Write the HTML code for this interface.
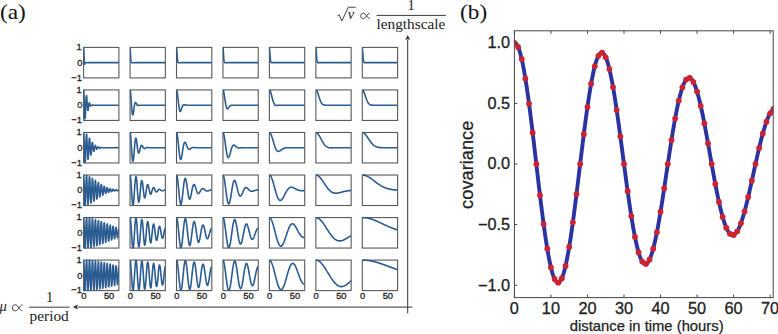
<!DOCTYPE html>
<html><head><meta charset="utf-8"><style>
html,body{margin:0;padding:0;background:#fff;}
body{width:778px;height:334px;overflow:hidden;font-family:"Liberation Sans",sans-serif;}
svg{display:block;}
</style></head><body>
<svg width="778" height="334" viewBox="0 0 778 334"><defs><clipPath id="c00"><rect x="83.60" y="46.40" width="35.30" height="32.50"/></clipPath><clipPath id="c01"><rect x="130.05" y="46.40" width="35.30" height="32.50"/></clipPath><clipPath id="c02"><rect x="176.50" y="46.40" width="35.30" height="32.50"/></clipPath><clipPath id="c03"><rect x="222.95" y="46.40" width="35.30" height="32.50"/></clipPath><clipPath id="c04"><rect x="269.40" y="46.40" width="35.30" height="32.50"/></clipPath><clipPath id="c05"><rect x="315.85" y="46.40" width="35.30" height="32.50"/></clipPath><clipPath id="c06"><rect x="362.30" y="46.40" width="35.30" height="32.50"/></clipPath><clipPath id="c10"><rect x="83.60" y="88.94" width="35.30" height="32.50"/></clipPath><clipPath id="c11"><rect x="130.05" y="88.94" width="35.30" height="32.50"/></clipPath><clipPath id="c12"><rect x="176.50" y="88.94" width="35.30" height="32.50"/></clipPath><clipPath id="c13"><rect x="222.95" y="88.94" width="35.30" height="32.50"/></clipPath><clipPath id="c14"><rect x="269.40" y="88.94" width="35.30" height="32.50"/></clipPath><clipPath id="c15"><rect x="315.85" y="88.94" width="35.30" height="32.50"/></clipPath><clipPath id="c16"><rect x="362.30" y="88.94" width="35.30" height="32.50"/></clipPath><clipPath id="c20"><rect x="83.60" y="131.48" width="35.30" height="32.50"/></clipPath><clipPath id="c21"><rect x="130.05" y="131.48" width="35.30" height="32.50"/></clipPath><clipPath id="c22"><rect x="176.50" y="131.48" width="35.30" height="32.50"/></clipPath><clipPath id="c23"><rect x="222.95" y="131.48" width="35.30" height="32.50"/></clipPath><clipPath id="c24"><rect x="269.40" y="131.48" width="35.30" height="32.50"/></clipPath><clipPath id="c25"><rect x="315.85" y="131.48" width="35.30" height="32.50"/></clipPath><clipPath id="c26"><rect x="362.30" y="131.48" width="35.30" height="32.50"/></clipPath><clipPath id="c30"><rect x="83.60" y="174.02" width="35.30" height="32.50"/></clipPath><clipPath id="c31"><rect x="130.05" y="174.02" width="35.30" height="32.50"/></clipPath><clipPath id="c32"><rect x="176.50" y="174.02" width="35.30" height="32.50"/></clipPath><clipPath id="c33"><rect x="222.95" y="174.02" width="35.30" height="32.50"/></clipPath><clipPath id="c34"><rect x="269.40" y="174.02" width="35.30" height="32.50"/></clipPath><clipPath id="c35"><rect x="315.85" y="174.02" width="35.30" height="32.50"/></clipPath><clipPath id="c36"><rect x="362.30" y="174.02" width="35.30" height="32.50"/></clipPath><clipPath id="c40"><rect x="83.60" y="216.56" width="35.30" height="32.50"/></clipPath><clipPath id="c41"><rect x="130.05" y="216.56" width="35.30" height="32.50"/></clipPath><clipPath id="c42"><rect x="176.50" y="216.56" width="35.30" height="32.50"/></clipPath><clipPath id="c43"><rect x="222.95" y="216.56" width="35.30" height="32.50"/></clipPath><clipPath id="c44"><rect x="269.40" y="216.56" width="35.30" height="32.50"/></clipPath><clipPath id="c45"><rect x="315.85" y="216.56" width="35.30" height="32.50"/></clipPath><clipPath id="c46"><rect x="362.30" y="216.56" width="35.30" height="32.50"/></clipPath><clipPath id="c50"><rect x="83.60" y="259.10" width="35.30" height="32.50"/></clipPath><clipPath id="c51"><rect x="130.05" y="259.10" width="35.30" height="32.50"/></clipPath><clipPath id="c52"><rect x="176.50" y="259.10" width="35.30" height="32.50"/></clipPath><clipPath id="c53"><rect x="222.95" y="259.10" width="35.30" height="32.50"/></clipPath><clipPath id="c54"><rect x="269.40" y="259.10" width="35.30" height="32.50"/></clipPath><clipPath id="c55"><rect x="315.85" y="259.10" width="35.30" height="32.50"/></clipPath><clipPath id="c56"><rect x="362.30" y="259.10" width="35.30" height="32.50"/></clipPath></defs><rect x="83.60" y="47.40" width="35.30" height="30.50" fill="none" stroke="#585858" stroke-width="1.1"/><rect x="130.05" y="47.40" width="35.30" height="30.50" fill="none" stroke="#585858" stroke-width="1.1"/><rect x="176.50" y="47.40" width="35.30" height="30.50" fill="none" stroke="#585858" stroke-width="1.1"/><rect x="222.95" y="47.40" width="35.30" height="30.50" fill="none" stroke="#585858" stroke-width="1.1"/><rect x="269.40" y="47.40" width="35.30" height="30.50" fill="none" stroke="#585858" stroke-width="1.1"/><rect x="315.85" y="47.40" width="35.30" height="30.50" fill="none" stroke="#585858" stroke-width="1.1"/><rect x="362.30" y="47.40" width="35.30" height="30.50" fill="none" stroke="#585858" stroke-width="1.1"/><rect x="83.60" y="89.94" width="35.30" height="30.50" fill="none" stroke="#585858" stroke-width="1.1"/><rect x="130.05" y="89.94" width="35.30" height="30.50" fill="none" stroke="#585858" stroke-width="1.1"/><rect x="176.50" y="89.94" width="35.30" height="30.50" fill="none" stroke="#585858" stroke-width="1.1"/><rect x="222.95" y="89.94" width="35.30" height="30.50" fill="none" stroke="#585858" stroke-width="1.1"/><rect x="269.40" y="89.94" width="35.30" height="30.50" fill="none" stroke="#585858" stroke-width="1.1"/><rect x="315.85" y="89.94" width="35.30" height="30.50" fill="none" stroke="#585858" stroke-width="1.1"/><rect x="362.30" y="89.94" width="35.30" height="30.50" fill="none" stroke="#585858" stroke-width="1.1"/><rect x="83.60" y="132.48" width="35.30" height="30.50" fill="none" stroke="#585858" stroke-width="1.1"/><rect x="130.05" y="132.48" width="35.30" height="30.50" fill="none" stroke="#585858" stroke-width="1.1"/><rect x="176.50" y="132.48" width="35.30" height="30.50" fill="none" stroke="#585858" stroke-width="1.1"/><rect x="222.95" y="132.48" width="35.30" height="30.50" fill="none" stroke="#585858" stroke-width="1.1"/><rect x="269.40" y="132.48" width="35.30" height="30.50" fill="none" stroke="#585858" stroke-width="1.1"/><rect x="315.85" y="132.48" width="35.30" height="30.50" fill="none" stroke="#585858" stroke-width="1.1"/><rect x="362.30" y="132.48" width="35.30" height="30.50" fill="none" stroke="#585858" stroke-width="1.1"/><rect x="83.60" y="175.02" width="35.30" height="30.50" fill="none" stroke="#585858" stroke-width="1.1"/><rect x="130.05" y="175.02" width="35.30" height="30.50" fill="none" stroke="#585858" stroke-width="1.1"/><rect x="176.50" y="175.02" width="35.30" height="30.50" fill="none" stroke="#585858" stroke-width="1.1"/><rect x="222.95" y="175.02" width="35.30" height="30.50" fill="none" stroke="#585858" stroke-width="1.1"/><rect x="269.40" y="175.02" width="35.30" height="30.50" fill="none" stroke="#585858" stroke-width="1.1"/><rect x="315.85" y="175.02" width="35.30" height="30.50" fill="none" stroke="#585858" stroke-width="1.1"/><rect x="362.30" y="175.02" width="35.30" height="30.50" fill="none" stroke="#585858" stroke-width="1.1"/><rect x="83.60" y="217.56" width="35.30" height="30.50" fill="none" stroke="#585858" stroke-width="1.1"/><rect x="130.05" y="217.56" width="35.30" height="30.50" fill="none" stroke="#585858" stroke-width="1.1"/><rect x="176.50" y="217.56" width="35.30" height="30.50" fill="none" stroke="#585858" stroke-width="1.1"/><rect x="222.95" y="217.56" width="35.30" height="30.50" fill="none" stroke="#585858" stroke-width="1.1"/><rect x="269.40" y="217.56" width="35.30" height="30.50" fill="none" stroke="#585858" stroke-width="1.1"/><rect x="315.85" y="217.56" width="35.30" height="30.50" fill="none" stroke="#585858" stroke-width="1.1"/><rect x="362.30" y="217.56" width="35.30" height="30.50" fill="none" stroke="#585858" stroke-width="1.1"/><rect x="83.60" y="260.10" width="35.30" height="30.50" fill="none" stroke="#585858" stroke-width="1.1"/><rect x="130.05" y="260.10" width="35.30" height="30.50" fill="none" stroke="#585858" stroke-width="1.1"/><rect x="176.50" y="260.10" width="35.30" height="30.50" fill="none" stroke="#585858" stroke-width="1.1"/><rect x="222.95" y="260.10" width="35.30" height="30.50" fill="none" stroke="#585858" stroke-width="1.1"/><rect x="269.40" y="260.10" width="35.30" height="30.50" fill="none" stroke="#585858" stroke-width="1.1"/><rect x="315.85" y="260.10" width="35.30" height="30.50" fill="none" stroke="#585858" stroke-width="1.1"/><rect x="362.30" y="260.10" width="35.30" height="30.50" fill="none" stroke="#585858" stroke-width="1.1"/><polyline clip-path="url(#c00)" fill="none" stroke="#2a5c92" stroke-width="1.6" stroke-linejoin="round" points="83.6,47.4 83.7,48.1 83.8,50.1 83.9,52.9 84.0,56.1 84.2,59.1 84.3,61.4 84.4,63.1 84.5,63.9 84.6,64.2 84.7,64.1 84.8,63.8 84.9,63.5 85.0,63.2 85.1,63.0 85.3,62.8 85.4,62.7 85.5,62.7 85.6,62.7 85.7,62.7 85.8,62.7 85.9,62.6 86.0,62.6 86.1,62.6 86.2,62.6 86.4,62.6 86.5,62.6 86.6,62.6 86.7,62.6 86.8,62.6 86.9,62.6 87.0,62.6 87.1,62.6 87.2,62.6 87.4,62.7 87.5,62.7 87.6,62.7 87.7,62.7 87.8,62.7 87.9,62.7 88.0,62.7 88.1,62.7 88.2,62.7 88.3,62.6 88.5,62.6 88.6,62.6 88.7,62.6 88.8,62.6 88.9,62.6 89.0,62.6 89.1,62.6 89.2,62.6 89.3,62.6 89.4,62.6 89.6,62.6 89.7,62.6 89.8,62.6 89.9,62.6 90.0,62.6 90.1,62.6 90.2,62.6 90.3,62.6 90.4,62.6 90.5,62.6 90.7,62.6 90.8,62.6 90.9,62.6 91.0,62.6 91.1,62.6 91.2,62.6 91.3,62.6 91.4,62.6 91.5,62.6 91.7,62.6 91.8,62.6 91.9,62.6 92.0,62.6 92.1,62.6 92.2,62.6 92.3,62.6 92.4,62.6 92.5,62.6 92.6,62.6 92.8,62.6 92.9,62.6 93.0,62.6 93.1,62.6 93.2,62.6 93.3,62.6 93.4,62.6 93.5,62.6 93.6,62.6 93.7,62.6 93.9,62.6 94.0,62.6 94.1,62.6 94.2,62.6 94.3,62.6 94.4,62.6 94.5,62.6 94.6,62.6 94.7,62.6 94.9,62.6 95.0,62.6 95.1,62.6 95.2,62.6 95.3,62.6 95.4,62.6 95.5,62.6 95.6,62.6 95.7,62.6 95.8,62.6 96.0,62.6 96.1,62.6 96.2,62.6 96.3,62.6 96.4,62.6 96.5,62.6 96.6,62.6 96.7,62.6 96.8,62.6 96.9,62.6 97.1,62.6 97.2,62.6 97.3,62.6 97.4,62.6 97.5,62.6 97.6,62.6 97.7,62.6 97.8,62.6 97.9,62.6 98.1,62.6 98.2,62.6 98.3,62.6 98.4,62.6 98.5,62.6 98.6,62.6 98.7,62.6 98.8,62.6 98.9,62.6 99.0,62.6 99.2,62.6 99.3,62.6 99.4,62.6 99.5,62.6 99.6,62.6 99.7,62.6 99.8,62.6 99.9,62.6 100.0,62.6 100.1,62.6 100.3,62.6 100.4,62.6 100.5,62.6 100.6,62.6 100.7,62.6 100.8,62.6 100.9,62.6 101.0,62.6 101.1,62.6 101.2,62.6 101.4,62.6 101.5,62.6 101.6,62.6 101.7,62.6 101.8,62.6 101.9,62.6 102.0,62.6 102.1,62.6 102.2,62.6 102.4,62.6 102.5,62.6 102.6,62.6 102.7,62.6 102.8,62.6 102.9,62.6 103.0,62.6 103.1,62.6 103.2,62.6 103.3,62.6 103.5,62.6 103.6,62.6 103.7,62.6 103.8,62.6 103.9,62.6 104.0,62.6 104.1,62.6 104.2,62.6 104.3,62.6 104.4,62.6 104.6,62.6 104.7,62.6 104.8,62.6 104.9,62.6 105.0,62.6 105.1,62.6 105.2,62.6 105.3,62.6 105.4,62.6 105.6,62.6 105.7,62.6 105.8,62.6 105.9,62.6 106.0,62.6 106.1,62.6 106.2,62.6 106.3,62.6 106.4,62.6 106.5,62.6 106.7,62.6 106.8,62.6 106.9,62.6 107.0,62.6 107.1,62.6 107.2,62.6 107.3,62.6 107.4,62.6 107.5,62.6 107.6,62.6 107.8,62.6 107.9,62.6 108.0,62.6 108.1,62.6 108.2,62.6 108.3,62.6 108.4,62.6 108.5,62.6 108.6,62.6 108.8,62.6 108.9,62.6 109.0,62.6 109.1,62.6 109.2,62.6 109.3,62.6 109.4,62.6 109.5,62.6 109.6,62.6 109.7,62.6 109.9,62.6 110.0,62.6 110.1,62.6 110.2,62.6 110.3,62.6 110.4,62.6 110.5,62.6 110.6,62.6 110.7,62.6 110.8,62.6 111.0,62.6 111.1,62.6 111.2,62.6 111.3,62.6 111.4,62.6 111.5,62.6 111.6,62.6 111.7,62.6 111.8,62.6 112.0,62.6 112.1,62.6 112.2,62.6 112.3,62.6 112.4,62.6 112.5,62.6 112.6,62.6 112.7,62.6 112.8,62.6 112.9,62.6 113.1,62.6 113.2,62.6 113.3,62.6 113.4,62.6 113.5,62.6 113.6,62.6 113.7,62.6 113.8,62.6 113.9,62.6 114.0,62.6 114.2,62.6 114.3,62.6 114.4,62.6 114.5,62.6 114.6,62.6 114.7,62.6 114.8,62.6 114.9,62.6 115.0,62.6 115.1,62.6 115.3,62.6 115.4,62.6 115.5,62.6 115.6,62.6 115.7,62.6 115.8,62.6 115.9,62.6 116.0,62.6 116.1,62.6 116.3,62.6 116.4,62.6 116.5,62.6 116.6,62.6 116.7,62.6 116.8,62.6 116.9,62.6 117.0,62.6 117.1,62.6 117.2,62.6 117.4,62.6 117.5,62.6 117.6,62.6 117.7,62.6 117.8,62.6 117.9,62.6 118.0,62.6 118.1,62.6 118.2,62.6 118.3,62.6 118.5,62.6 118.6,62.6 118.7,62.6 118.8,62.6 118.9,62.6"/><polyline clip-path="url(#c01)" fill="none" stroke="#2a5c92" stroke-width="1.6" stroke-linejoin="round" points="130.1,47.4 130.2,48.6 130.4,51.8 130.6,55.7 130.8,58.9 131.0,61.1 131.2,62.2 131.4,62.6 131.6,62.7 131.8,62.7 132.0,62.7 132.2,62.7 132.4,62.7 132.6,62.7 132.8,62.7 133.0,62.7 133.2,62.7 133.4,62.7 133.6,62.7 133.8,62.7 134.0,62.7 134.2,62.7 134.4,62.7 134.6,62.6 134.8,62.6 135.0,62.6 135.2,62.6 135.4,62.6 135.6,62.6 135.8,62.6 136.0,62.6 136.2,62.6 136.4,62.6 136.6,62.6 136.8,62.6 137.0,62.6 137.1,62.6 137.3,62.6 137.5,62.6 137.7,62.6 137.9,62.6 138.1,62.6 138.3,62.6 138.5,62.6 138.7,62.6 138.9,62.6 139.1,62.6 139.3,62.6 139.5,62.6 139.7,62.6 139.9,62.6 140.1,62.6 140.3,62.6 140.5,62.6 140.7,62.6 140.9,62.6 141.1,62.6 141.3,62.6 141.5,62.6 141.7,62.6 141.9,62.6 142.1,62.6 142.3,62.6 142.5,62.6 142.7,62.6 142.9,62.6 143.1,62.6 143.3,62.6 143.5,62.6 143.7,62.6 143.9,62.6 144.1,62.6 144.2,62.6 144.4,62.6 144.6,62.6 144.8,62.6 145.0,62.6 145.2,62.6 145.4,62.6 145.6,62.6 145.8,62.6 146.0,62.6 146.2,62.6 146.4,62.6 146.6,62.6 146.8,62.6 147.0,62.6 147.2,62.6 147.4,62.6 147.6,62.6 147.8,62.6 148.0,62.6 148.2,62.6 148.4,62.6 148.6,62.6 148.8,62.6 149.0,62.6 149.2,62.6 149.4,62.6 149.6,62.6 149.8,62.6 150.0,62.6 150.2,62.6 150.4,62.6 150.6,62.6 150.8,62.6 151.0,62.6 151.2,62.6 151.3,62.6 151.5,62.6 151.7,62.6 151.9,62.6 152.1,62.6 152.3,62.6 152.5,62.6 152.7,62.6 152.9,62.6 153.1,62.6 153.3,62.6 153.5,62.6 153.7,62.6 153.9,62.6 154.1,62.6 154.3,62.6 154.5,62.6 154.7,62.6 154.9,62.6 155.1,62.6 155.3,62.6 155.5,62.6 155.7,62.6 155.9,62.6 156.1,62.6 156.3,62.6 156.5,62.6 156.7,62.6 156.9,62.6 157.1,62.6 157.3,62.6 157.5,62.6 157.7,62.6 157.9,62.6 158.1,62.6 158.3,62.6 158.4,62.6 158.6,62.6 158.8,62.6 159.0,62.6 159.2,62.6 159.4,62.6 159.6,62.6 159.8,62.6 160.0,62.6 160.2,62.6 160.4,62.6 160.6,62.6 160.8,62.6 161.0,62.6 161.2,62.6 161.4,62.6 161.6,62.6 161.8,62.6 162.0,62.6 162.2,62.6 162.4,62.6 162.6,62.6 162.8,62.6 163.0,62.6 163.2,62.6 163.4,62.6 163.6,62.6 163.8,62.6 164.0,62.6 164.2,62.6 164.4,62.6 164.6,62.6 164.8,62.6 165.0,62.6 165.2,62.6 165.4,62.6"/><polyline clip-path="url(#c02)" fill="none" stroke="#2a5c92" stroke-width="1.6" stroke-linejoin="round" points="176.5,47.4 176.8,49.7 177.1,54.8 177.4,59.3 177.7,61.6 178.0,62.4 178.3,62.6 178.6,62.6 178.9,62.7 179.2,62.7 179.5,62.7 179.8,62.7 180.1,62.7 180.4,62.7 180.7,62.7 180.9,62.7 181.2,62.7 181.5,62.6 181.8,62.6 182.1,62.6 182.4,62.6 182.7,62.6 183.0,62.6 183.3,62.6 183.6,62.6 183.9,62.6 184.2,62.6 184.5,62.6 184.8,62.6 185.1,62.6 185.4,62.6 185.7,62.6 186.0,62.6 186.3,62.6 186.6,62.6 186.9,62.6 187.2,62.6 187.5,62.6 187.8,62.6 188.1,62.6 188.4,62.6 188.7,62.6 189.0,62.6 189.3,62.6 189.6,62.6 189.8,62.6 190.1,62.6 190.4,62.6 190.7,62.6 191.0,62.6 191.3,62.6 191.6,62.6 191.9,62.6 192.2,62.6 192.5,62.6 192.8,62.6 193.1,62.6 193.4,62.6 193.7,62.6 194.0,62.6 194.3,62.6 194.6,62.6 194.9,62.6 195.2,62.6 195.5,62.6 195.8,62.6 196.1,62.6 196.4,62.6 196.7,62.6 197.0,62.6 197.3,62.6 197.6,62.6 197.9,62.6 198.2,62.6 198.5,62.6 198.7,62.6 199.0,62.6 199.3,62.6 199.6,62.6 199.9,62.6 200.2,62.6 200.5,62.6 200.8,62.6 201.1,62.6 201.4,62.6 201.7,62.6 202.0,62.6 202.3,62.6 202.6,62.6 202.9,62.6 203.2,62.6 203.5,62.6 203.8,62.6 204.1,62.6 204.4,62.6 204.7,62.6 205.0,62.6 205.3,62.6 205.6,62.6 205.9,62.6 206.2,62.6 206.5,62.6 206.8,62.6 207.1,62.6 207.4,62.6 207.6,62.6 207.9,62.6 208.2,62.6 208.5,62.6 208.8,62.6 209.1,62.6 209.4,62.6 209.7,62.6 210.0,62.6 210.3,62.6 210.6,62.6 210.9,62.6 211.2,62.6 211.5,62.6 211.8,62.6"/><polyline clip-path="url(#c03)" fill="none" stroke="#2a5c92" stroke-width="1.6" stroke-linejoin="round" points="223.0,47.4 223.3,51.1 223.7,57.6 224.1,61.4 224.5,62.5 224.9,62.6 225.3,62.6 225.7,62.6 226.1,62.7 226.5,62.7 226.9,62.7 227.3,62.7 227.7,62.6 228.1,62.6 228.5,62.6 228.9,62.6 229.3,62.6 229.7,62.6 230.1,62.6 230.5,62.6 230.9,62.6 231.3,62.6 231.7,62.6 232.1,62.6 232.5,62.6 232.9,62.6 233.3,62.6 233.7,62.6 234.1,62.6 234.5,62.6 234.8,62.6 235.2,62.6 235.6,62.6 236.0,62.6 236.4,62.6 236.8,62.6 237.2,62.6 237.6,62.6 238.0,62.6 238.4,62.6 238.8,62.6 239.2,62.6 239.6,62.6 240.0,62.6 240.4,62.6 240.8,62.6 241.2,62.6 241.6,62.6 242.0,62.6 242.4,62.6 242.8,62.6 243.2,62.6 243.6,62.6 244.0,62.6 244.4,62.6 244.8,62.6 245.2,62.6 245.6,62.6 246.0,62.6 246.4,62.6 246.7,62.6 247.1,62.6 247.5,62.6 247.9,62.6 248.3,62.6 248.7,62.6 249.1,62.6 249.5,62.6 249.9,62.6 250.3,62.6 250.7,62.6 251.1,62.6 251.5,62.6 251.9,62.6 252.3,62.6 252.7,62.6 253.1,62.6 253.5,62.6 253.9,62.6 254.3,62.6 254.7,62.6 255.1,62.6 255.5,62.6 255.9,62.6 256.3,62.6 256.7,62.6 257.1,62.6 257.5,62.6 257.9,62.6 258.2,62.6"/><polyline clip-path="url(#c04)" fill="none" stroke="#2a5c92" stroke-width="1.6" stroke-linejoin="round" points="269.4,47.4 269.8,51.6 270.3,58.5 270.7,61.8 271.2,62.6 271.6,62.6 272.0,62.6 272.5,62.6 272.9,62.6 273.4,62.6 273.8,62.6 274.3,62.6 274.7,62.6 275.1,62.6 275.6,62.6 276.0,62.6 276.5,62.6 276.9,62.6 277.3,62.6 277.8,62.6 278.2,62.6 278.7,62.6 279.1,62.6 279.5,62.6 280.0,62.6 280.4,62.6 280.9,62.6 281.3,62.6 281.8,62.6 282.2,62.6 282.6,62.6 283.1,62.6 283.5,62.6 284.0,62.6 284.4,62.6 284.8,62.6 285.3,62.6 285.7,62.6 286.2,62.6 286.6,62.6 287.0,62.6 287.5,62.6 287.9,62.6 288.4,62.6 288.8,62.6 289.3,62.6 289.7,62.6 290.1,62.6 290.6,62.6 291.0,62.6 291.5,62.6 291.9,62.6 292.3,62.6 292.8,62.6 293.2,62.6 293.7,62.6 294.1,62.6 294.6,62.6 295.0,62.6 295.4,62.6 295.9,62.6 296.3,62.6 296.8,62.6 297.2,62.6 297.6,62.6 298.1,62.6 298.5,62.6 299.0,62.6 299.4,62.6 299.8,62.6 300.3,62.6 300.7,62.6 301.2,62.6 301.6,62.6 302.1,62.6 302.5,62.6 302.9,62.6 303.4,62.6 303.8,62.6 304.3,62.6 304.7,62.6"/><polyline clip-path="url(#c05)" fill="none" stroke="#2a5c92" stroke-width="1.6" stroke-linejoin="round" points="315.9,47.4 316.3,51.6 316.7,58.4 317.2,61.8 317.6,62.6 318.1,62.6 318.5,62.6 318.9,62.6 319.4,62.6 319.8,62.6 320.3,62.6 320.7,62.6 321.1,62.6 321.6,62.6 322.0,62.6 322.5,62.6 322.9,62.6 323.4,62.6 323.8,62.6 324.2,62.6 324.7,62.6 325.1,62.6 325.6,62.6 326.0,62.6 326.4,62.6 326.9,62.6 327.3,62.6 327.8,62.6 328.2,62.6 328.6,62.6 329.1,62.6 329.5,62.6 330.0,62.6 330.4,62.6 330.9,62.6 331.3,62.6 331.7,62.6 332.2,62.6 332.6,62.6 333.1,62.6 333.5,62.6 333.9,62.6 334.4,62.6 334.8,62.6 335.3,62.6 335.7,62.6 336.1,62.6 336.6,62.6 337.0,62.6 337.5,62.6 337.9,62.6 338.4,62.6 338.8,62.6 339.2,62.6 339.7,62.6 340.1,62.6 340.6,62.6 341.0,62.6 341.4,62.6 341.9,62.6 342.3,62.6 342.8,62.6 343.2,62.6 343.6,62.6 344.1,62.6 344.5,62.6 345.0,62.6 345.4,62.6 345.9,62.6 346.3,62.6 346.7,62.6 347.2,62.6 347.6,62.6 348.1,62.6 348.5,62.6 348.9,62.6 349.4,62.6 349.8,62.6 350.3,62.6 350.7,62.6 351.2,62.6"/><polyline clip-path="url(#c06)" fill="none" stroke="#2a5c92" stroke-width="1.6" stroke-linejoin="round" points="362.3,47.4 362.7,51.5 363.2,58.3 363.6,61.8 364.1,62.6 364.5,62.6 364.9,62.6 365.4,62.6 365.8,62.6 366.3,62.6 366.7,62.6 367.2,62.6 367.6,62.6 368.0,62.6 368.5,62.6 368.9,62.6 369.4,62.6 369.8,62.6 370.2,62.6 370.7,62.6 371.1,62.6 371.6,62.6 372.0,62.6 372.4,62.6 372.9,62.6 373.3,62.6 373.8,62.6 374.2,62.6 374.7,62.6 375.1,62.6 375.5,62.6 376.0,62.6 376.4,62.6 376.9,62.6 377.3,62.6 377.7,62.6 378.2,62.6 378.6,62.6 379.1,62.6 379.5,62.6 380.0,62.6 380.4,62.6 380.8,62.6 381.3,62.6 381.7,62.6 382.2,62.6 382.6,62.6 383.0,62.6 383.5,62.6 383.9,62.6 384.4,62.6 384.8,62.6 385.2,62.6 385.7,62.6 386.1,62.6 386.6,62.6 387.0,62.6 387.5,62.6 387.9,62.6 388.3,62.6 388.8,62.6 389.2,62.6 389.7,62.6 390.1,62.6 390.5,62.6 391.0,62.6 391.4,62.6 391.9,62.6 392.3,62.6 392.7,62.6 393.2,62.6 393.6,62.6 394.1,62.6 394.5,62.6 395.0,62.6 395.4,62.6 395.8,62.6 396.3,62.6 396.7,62.6 397.2,62.6 397.6,62.6"/><polyline clip-path="url(#c10)" fill="none" stroke="#2a5c92" stroke-width="1.6" stroke-linejoin="round" points="83.6,89.9 83.7,90.4 83.8,91.6 83.9,93.6 84.0,96.3 84.2,99.4 84.3,102.8 84.4,106.3 84.5,109.6 84.6,112.6 84.7,115.2 84.8,117.1 84.9,118.3 85.0,118.8 85.1,118.4 85.3,117.4 85.4,115.7 85.5,113.5 85.6,111.0 85.7,108.2 85.8,105.4 85.9,102.7 86.0,100.4 86.1,98.4 86.2,96.9 86.4,96.0 86.5,95.6 86.6,95.8 86.7,96.5 86.8,97.6 86.9,99.1 87.0,100.8 87.1,102.6 87.2,104.4 87.4,106.1 87.5,107.6 87.6,108.8 87.7,109.7 87.8,110.3 87.9,110.5 88.0,110.5 88.1,110.1 88.2,109.5 88.3,108.7 88.5,107.8 88.6,106.9 88.7,105.9 88.8,105.1 88.9,104.3 89.0,103.7 89.1,103.2 89.2,102.9 89.3,102.8 89.4,102.9 89.6,103.0 89.7,103.3 89.8,103.6 89.9,104.0 90.0,104.4 90.1,104.8 90.2,105.1 90.3,105.4 90.4,105.7 90.5,105.8 90.7,106.0 90.8,106.0 90.9,106.0 91.0,106.0 91.1,105.9 91.2,105.8 91.3,105.6 91.4,105.5 91.5,105.4 91.7,105.3 91.8,105.2 91.9,105.1 92.0,105.0 92.1,105.0 92.2,105.0 92.3,105.0 92.4,105.0 92.5,105.0 92.6,105.0 92.8,105.1 92.9,105.1 93.0,105.1 93.1,105.2 93.2,105.2 93.3,105.2 93.4,105.2 93.5,105.2 93.6,105.2 93.7,105.2 93.9,105.2 94.0,105.2 94.1,105.2 94.2,105.2 94.3,105.2 94.4,105.2 94.5,105.2 94.6,105.2 94.7,105.2 94.9,105.2 95.0,105.2 95.1,105.2 95.2,105.2 95.3,105.2 95.4,105.2 95.5,105.2 95.6,105.2 95.7,105.2 95.8,105.2 96.0,105.2 96.1,105.2 96.2,105.2 96.3,105.2 96.4,105.2 96.5,105.2 96.6,105.2 96.7,105.2 96.8,105.2 96.9,105.2 97.1,105.2 97.2,105.2 97.3,105.2 97.4,105.2 97.5,105.2 97.6,105.2 97.7,105.2 97.8,105.2 97.9,105.2 98.1,105.2 98.2,105.2 98.3,105.2 98.4,105.2 98.5,105.2 98.6,105.2 98.7,105.2 98.8,105.2 98.9,105.2 99.0,105.2 99.2,105.2 99.3,105.2 99.4,105.2 99.5,105.2 99.6,105.2 99.7,105.2 99.8,105.2 99.9,105.2 100.0,105.2 100.1,105.2 100.3,105.2 100.4,105.2 100.5,105.2 100.6,105.2 100.7,105.2 100.8,105.2 100.9,105.2 101.0,105.2 101.1,105.2 101.2,105.2 101.4,105.2 101.5,105.2 101.6,105.2 101.7,105.2 101.8,105.2 101.9,105.2 102.0,105.2 102.1,105.2 102.2,105.2 102.4,105.2 102.5,105.2 102.6,105.2 102.7,105.2 102.8,105.2 102.9,105.2 103.0,105.2 103.1,105.2 103.2,105.2 103.3,105.2 103.5,105.2 103.6,105.2 103.7,105.2 103.8,105.2 103.9,105.2 104.0,105.2 104.1,105.2 104.2,105.2 104.3,105.2 104.4,105.2 104.6,105.2 104.7,105.2 104.8,105.2 104.9,105.2 105.0,105.2 105.1,105.2 105.2,105.2 105.3,105.2 105.4,105.2 105.6,105.2 105.7,105.2 105.8,105.2 105.9,105.2 106.0,105.2 106.1,105.2 106.2,105.2 106.3,105.2 106.4,105.2 106.5,105.2 106.7,105.2 106.8,105.2 106.9,105.2 107.0,105.2 107.1,105.2 107.2,105.2 107.3,105.2 107.4,105.2 107.5,105.2 107.6,105.2 107.8,105.2 107.9,105.2 108.0,105.2 108.1,105.2 108.2,105.2 108.3,105.2 108.4,105.2 108.5,105.2 108.6,105.2 108.8,105.2 108.9,105.2 109.0,105.2 109.1,105.2 109.2,105.2 109.3,105.2 109.4,105.2 109.5,105.2 109.6,105.2 109.7,105.2 109.9,105.2 110.0,105.2 110.1,105.2 110.2,105.2 110.3,105.2 110.4,105.2 110.5,105.2 110.6,105.2 110.7,105.2 110.8,105.2 111.0,105.2 111.1,105.2 111.2,105.2 111.3,105.2 111.4,105.2 111.5,105.2 111.6,105.2 111.7,105.2 111.8,105.2 112.0,105.2 112.1,105.2 112.2,105.2 112.3,105.2 112.4,105.2 112.5,105.2 112.6,105.2 112.7,105.2 112.8,105.2 112.9,105.2 113.1,105.2 113.2,105.2 113.3,105.2 113.4,105.2 113.5,105.2 113.6,105.2 113.7,105.2 113.8,105.2 113.9,105.2 114.0,105.2 114.2,105.2 114.3,105.2 114.4,105.2 114.5,105.2 114.6,105.2 114.7,105.2 114.8,105.2 114.9,105.2 115.0,105.2 115.1,105.2 115.3,105.2 115.4,105.2 115.5,105.2 115.6,105.2 115.7,105.2 115.8,105.2 115.9,105.2 116.0,105.2 116.1,105.2 116.3,105.2 116.4,105.2 116.5,105.2 116.6,105.2 116.7,105.2 116.8,105.2 116.9,105.2 117.0,105.2 117.1,105.2 117.2,105.2 117.4,105.2 117.5,105.2 117.6,105.2 117.7,105.2 117.8,105.2 117.9,105.2 118.0,105.2 118.1,105.2 118.2,105.2 118.3,105.2 118.5,105.2 118.6,105.2 118.7,105.2 118.8,105.2 118.9,105.2"/><polyline clip-path="url(#c11)" fill="none" stroke="#2a5c92" stroke-width="1.6" stroke-linejoin="round" points="130.1,89.9 130.2,90.3 130.4,91.4 130.6,93.1 130.8,95.3 131.0,98.0 131.2,100.9 131.4,103.8 131.6,106.6 131.8,109.2 132.0,111.4 132.2,113.1 132.4,114.3 132.6,114.9 132.8,115.0 133.0,114.6 133.2,113.8 133.4,112.7 133.6,111.4 133.8,109.9 134.0,108.4 134.2,107.0 134.4,105.7 134.6,104.6 134.8,103.8 135.0,103.1 135.2,102.7 135.4,102.5 135.6,102.5 135.8,102.7 136.0,102.9 136.2,103.3 136.4,103.6 136.6,104.0 136.8,104.3 137.0,104.6 137.1,104.9 137.3,105.1 137.5,105.3 137.7,105.4 137.9,105.5 138.1,105.5 138.3,105.5 138.5,105.5 138.7,105.4 138.9,105.4 139.1,105.4 139.3,105.3 139.5,105.3 139.7,105.3 139.9,105.2 140.1,105.2 140.3,105.2 140.5,105.2 140.7,105.2 140.9,105.2 141.1,105.2 141.3,105.2 141.5,105.2 141.7,105.2 141.9,105.2 142.1,105.2 142.3,105.2 142.5,105.2 142.7,105.2 142.9,105.2 143.1,105.2 143.3,105.2 143.5,105.2 143.7,105.2 143.9,105.2 144.1,105.2 144.2,105.2 144.4,105.2 144.6,105.2 144.8,105.2 145.0,105.2 145.2,105.2 145.4,105.2 145.6,105.2 145.8,105.2 146.0,105.2 146.2,105.2 146.4,105.2 146.6,105.2 146.8,105.2 147.0,105.2 147.2,105.2 147.4,105.2 147.6,105.2 147.8,105.2 148.0,105.2 148.2,105.2 148.4,105.2 148.6,105.2 148.8,105.2 149.0,105.2 149.2,105.2 149.4,105.2 149.6,105.2 149.8,105.2 150.0,105.2 150.2,105.2 150.4,105.2 150.6,105.2 150.8,105.2 151.0,105.2 151.2,105.2 151.3,105.2 151.5,105.2 151.7,105.2 151.9,105.2 152.1,105.2 152.3,105.2 152.5,105.2 152.7,105.2 152.9,105.2 153.1,105.2 153.3,105.2 153.5,105.2 153.7,105.2 153.9,105.2 154.1,105.2 154.3,105.2 154.5,105.2 154.7,105.2 154.9,105.2 155.1,105.2 155.3,105.2 155.5,105.2 155.7,105.2 155.9,105.2 156.1,105.2 156.3,105.2 156.5,105.2 156.7,105.2 156.9,105.2 157.1,105.2 157.3,105.2 157.5,105.2 157.7,105.2 157.9,105.2 158.1,105.2 158.3,105.2 158.4,105.2 158.6,105.2 158.8,105.2 159.0,105.2 159.2,105.2 159.4,105.2 159.6,105.2 159.8,105.2 160.0,105.2 160.2,105.2 160.4,105.2 160.6,105.2 160.8,105.2 161.0,105.2 161.2,105.2 161.4,105.2 161.6,105.2 161.8,105.2 162.0,105.2 162.2,105.2 162.4,105.2 162.6,105.2 162.8,105.2 163.0,105.2 163.2,105.2 163.4,105.2 163.6,105.2 163.8,105.2 164.0,105.2 164.2,105.2 164.4,105.2 164.6,105.2 164.8,105.2 165.0,105.2 165.2,105.2 165.4,105.2"/><polyline clip-path="url(#c12)" fill="none" stroke="#2a5c92" stroke-width="1.6" stroke-linejoin="round" points="176.5,89.9 176.8,90.3 177.1,91.5 177.4,93.4 177.7,95.8 178.0,98.5 178.3,101.3 178.6,104.0 178.9,106.4 179.2,108.5 179.5,110.0 179.8,111.0 180.1,111.4 180.4,111.4 180.7,111.0 180.9,110.4 181.2,109.5 181.5,108.6 181.8,107.8 182.1,107.0 182.4,106.3 182.7,105.7 183.0,105.3 183.3,105.0 183.6,104.9 183.9,104.8 184.2,104.8 184.5,104.8 184.8,104.9 185.1,104.9 185.4,105.0 185.7,105.0 186.0,105.1 186.3,105.1 186.6,105.2 186.9,105.2 187.2,105.2 187.5,105.2 187.8,105.2 188.1,105.2 188.4,105.2 188.7,105.2 189.0,105.2 189.3,105.2 189.6,105.2 189.8,105.2 190.1,105.2 190.4,105.2 190.7,105.2 191.0,105.2 191.3,105.2 191.6,105.2 191.9,105.2 192.2,105.2 192.5,105.2 192.8,105.2 193.1,105.2 193.4,105.2 193.7,105.2 194.0,105.2 194.3,105.2 194.6,105.2 194.9,105.2 195.2,105.2 195.5,105.2 195.8,105.2 196.1,105.2 196.4,105.2 196.7,105.2 197.0,105.2 197.3,105.2 197.6,105.2 197.9,105.2 198.2,105.2 198.5,105.2 198.7,105.2 199.0,105.2 199.3,105.2 199.6,105.2 199.9,105.2 200.2,105.2 200.5,105.2 200.8,105.2 201.1,105.2 201.4,105.2 201.7,105.2 202.0,105.2 202.3,105.2 202.6,105.2 202.9,105.2 203.2,105.2 203.5,105.2 203.8,105.2 204.1,105.2 204.4,105.2 204.7,105.2 205.0,105.2 205.3,105.2 205.6,105.2 205.9,105.2 206.2,105.2 206.5,105.2 206.8,105.2 207.1,105.2 207.4,105.2 207.6,105.2 207.9,105.2 208.2,105.2 208.5,105.2 208.8,105.2 209.1,105.2 209.4,105.2 209.7,105.2 210.0,105.2 210.3,105.2 210.6,105.2 210.9,105.2 211.2,105.2 211.5,105.2 211.8,105.2"/><polyline clip-path="url(#c13)" fill="none" stroke="#2a5c92" stroke-width="1.6" stroke-linejoin="round" points="223.0,89.9 223.3,90.4 223.7,91.7 224.1,93.8 224.5,96.4 224.9,99.1 225.3,101.8 225.7,104.3 226.1,106.2 226.5,107.6 226.9,108.5 227.3,108.9 227.7,108.8 228.1,108.5 228.5,108.0 228.9,107.4 229.3,106.8 229.7,106.3 230.1,105.9 230.5,105.6 230.9,105.4 231.3,105.3 231.7,105.2 232.1,105.2 232.5,105.2 232.9,105.2 233.3,105.2 233.7,105.2 234.1,105.2 234.5,105.2 234.8,105.2 235.2,105.2 235.6,105.2 236.0,105.2 236.4,105.2 236.8,105.2 237.2,105.2 237.6,105.2 238.0,105.2 238.4,105.2 238.8,105.2 239.2,105.2 239.6,105.2 240.0,105.2 240.4,105.2 240.8,105.2 241.2,105.2 241.6,105.2 242.0,105.2 242.4,105.2 242.8,105.2 243.2,105.2 243.6,105.2 244.0,105.2 244.4,105.2 244.8,105.2 245.2,105.2 245.6,105.2 246.0,105.2 246.4,105.2 246.7,105.2 247.1,105.2 247.5,105.2 247.9,105.2 248.3,105.2 248.7,105.2 249.1,105.2 249.5,105.2 249.9,105.2 250.3,105.2 250.7,105.2 251.1,105.2 251.5,105.2 251.9,105.2 252.3,105.2 252.7,105.2 253.1,105.2 253.5,105.2 253.9,105.2 254.3,105.2 254.7,105.2 255.1,105.2 255.5,105.2 255.9,105.2 256.3,105.2 256.7,105.2 257.1,105.2 257.5,105.2 257.9,105.2 258.2,105.2"/><polyline clip-path="url(#c14)" fill="none" stroke="#2a5c92" stroke-width="1.6" stroke-linejoin="round" points="269.4,89.9 269.8,90.2 270.3,91.0 270.7,92.2 271.2,93.7 271.6,95.5 272.0,97.3 272.5,99.0 272.9,100.6 273.4,102.0 273.8,103.2 274.3,104.0 274.7,104.7 275.1,105.1 275.6,105.3 276.0,105.5 276.5,105.5 276.9,105.5 277.3,105.4 277.8,105.4 278.2,105.3 278.7,105.3 279.1,105.3 279.5,105.2 280.0,105.2 280.4,105.2 280.9,105.2 281.3,105.2 281.8,105.2 282.2,105.2 282.6,105.2 283.1,105.2 283.5,105.2 284.0,105.2 284.4,105.2 284.8,105.2 285.3,105.2 285.7,105.2 286.2,105.2 286.6,105.2 287.0,105.2 287.5,105.2 287.9,105.2 288.4,105.2 288.8,105.2 289.3,105.2 289.7,105.2 290.1,105.2 290.6,105.2 291.0,105.2 291.5,105.2 291.9,105.2 292.3,105.2 292.8,105.2 293.2,105.2 293.7,105.2 294.1,105.2 294.6,105.2 295.0,105.2 295.4,105.2 295.9,105.2 296.3,105.2 296.8,105.2 297.2,105.2 297.6,105.2 298.1,105.2 298.5,105.2 299.0,105.2 299.4,105.2 299.8,105.2 300.3,105.2 300.7,105.2 301.2,105.2 301.6,105.2 302.1,105.2 302.5,105.2 302.9,105.2 303.4,105.2 303.8,105.2 304.3,105.2 304.7,105.2"/><polyline clip-path="url(#c15)" fill="none" stroke="#2a5c92" stroke-width="1.6" stroke-linejoin="round" points="315.9,89.9 316.3,90.1 316.7,90.7 317.2,91.5 317.6,92.6 318.1,93.9 318.5,95.3 318.9,96.7 319.4,98.1 319.8,99.4 320.3,100.6 320.7,101.6 321.1,102.5 321.6,103.2 322.0,103.8 322.5,104.2 322.9,104.5 323.4,104.7 323.8,104.9 324.2,105.0 324.7,105.1 325.1,105.1 325.6,105.2 326.0,105.2 326.4,105.2 326.9,105.2 327.3,105.2 327.8,105.2 328.2,105.2 328.6,105.2 329.1,105.2 329.5,105.2 330.0,105.2 330.4,105.2 330.9,105.2 331.3,105.2 331.7,105.2 332.2,105.2 332.6,105.2 333.1,105.2 333.5,105.2 333.9,105.2 334.4,105.2 334.8,105.2 335.3,105.2 335.7,105.2 336.1,105.2 336.6,105.2 337.0,105.2 337.5,105.2 337.9,105.2 338.4,105.2 338.8,105.2 339.2,105.2 339.7,105.2 340.1,105.2 340.6,105.2 341.0,105.2 341.4,105.2 341.9,105.2 342.3,105.2 342.8,105.2 343.2,105.2 343.6,105.2 344.1,105.2 344.5,105.2 345.0,105.2 345.4,105.2 345.9,105.2 346.3,105.2 346.7,105.2 347.2,105.2 347.6,105.2 348.1,105.2 348.5,105.2 348.9,105.2 349.4,105.2 349.8,105.2 350.3,105.2 350.7,105.2 351.2,105.2"/><polyline clip-path="url(#c16)" fill="none" stroke="#2a5c92" stroke-width="1.6" stroke-linejoin="round" points="362.3,89.9 362.7,90.1 363.2,90.6 363.6,91.3 364.1,92.3 364.5,93.5 364.9,94.8 365.4,96.2 365.8,97.5 366.3,98.8 366.7,100.0 367.2,101.0 367.6,101.9 368.0,102.7 368.5,103.3 368.9,103.8 369.4,104.2 369.8,104.5 370.2,104.7 370.7,104.9 371.1,105.0 371.6,105.1 372.0,105.1 372.4,105.1 372.9,105.2 373.3,105.2 373.8,105.2 374.2,105.2 374.7,105.2 375.1,105.2 375.5,105.2 376.0,105.2 376.4,105.2 376.9,105.2 377.3,105.2 377.7,105.2 378.2,105.2 378.6,105.2 379.1,105.2 379.5,105.2 380.0,105.2 380.4,105.2 380.8,105.2 381.3,105.2 381.7,105.2 382.2,105.2 382.6,105.2 383.0,105.2 383.5,105.2 383.9,105.2 384.4,105.2 384.8,105.2 385.2,105.2 385.7,105.2 386.1,105.2 386.6,105.2 387.0,105.2 387.5,105.2 387.9,105.2 388.3,105.2 388.8,105.2 389.2,105.2 389.7,105.2 390.1,105.2 390.5,105.2 391.0,105.2 391.4,105.2 391.9,105.2 392.3,105.2 392.7,105.2 393.2,105.2 393.6,105.2 394.1,105.2 394.5,105.2 395.0,105.2 395.4,105.2 395.8,105.2 396.3,105.2 396.7,105.2 397.2,105.2 397.6,105.2"/><polyline clip-path="url(#c20)" fill="none" stroke="#2a5c92" stroke-width="1.6" stroke-linejoin="round" points="83.6,132.5 83.7,132.9 83.8,134.1 83.9,136.1 84.0,138.7 84.2,141.9 84.3,145.3 84.4,148.8 84.5,152.3 84.6,155.5 84.7,158.2 84.8,160.4 84.9,161.8 85.0,162.5 85.1,162.3 85.3,161.4 85.4,159.7 85.5,157.3 85.6,154.5 85.7,151.3 85.8,148.0 85.9,144.7 86.0,141.6 86.1,138.9 86.2,136.7 86.4,135.2 86.5,134.3 86.6,134.2 86.7,134.9 86.8,136.2 86.9,138.2 87.0,140.6 87.1,143.4 87.2,146.4 87.4,149.3 87.5,152.1 87.6,154.6 87.7,156.7 87.8,158.2 87.9,159.1 88.0,159.4 88.1,159.0 88.2,158.1 88.3,156.5 88.5,154.6 88.6,152.3 88.7,149.9 88.8,147.4 88.9,145.0 89.0,142.8 89.1,140.9 89.2,139.5 89.3,138.6 89.4,138.2 89.6,138.4 89.7,139.0 89.8,140.1 89.9,141.6 90.0,143.4 90.1,145.3 90.2,147.3 90.3,149.2 90.4,151.0 90.5,152.5 90.7,153.7 90.8,154.5 90.9,155.0 91.0,155.0 91.1,154.6 91.2,153.8 91.3,152.8 91.4,151.5 91.5,150.1 91.7,148.6 91.8,147.2 91.9,145.8 92.0,144.6 92.1,143.7 92.2,143.0 92.3,142.6 92.4,142.5 92.5,142.7 92.6,143.1 92.8,143.8 92.9,144.7 93.0,145.6 93.1,146.7 93.2,147.7 93.3,148.7 93.4,149.6 93.5,150.3 93.6,150.8 93.7,151.2 93.9,151.3 94.0,151.2 94.1,151.0 94.2,150.6 94.3,150.0 94.4,149.4 94.5,148.7 94.6,148.0 94.7,147.3 94.9,146.7 95.0,146.2 95.1,145.8 95.2,145.6 95.3,145.4 95.4,145.5 95.5,145.6 95.6,145.8 95.7,146.1 95.8,146.5 96.0,147.0 96.1,147.4 96.2,147.8 96.3,148.2 96.4,148.5 96.5,148.8 96.6,149.0 96.7,149.1 96.8,149.1 96.9,149.1 97.1,148.9 97.2,148.8 97.3,148.5 97.4,148.3 97.5,148.0 97.6,147.8 97.7,147.5 97.8,147.3 97.9,147.2 98.1,147.0 98.2,147.0 98.3,146.9 98.4,147.0 98.5,147.0 98.6,147.1 98.7,147.2 98.8,147.4 98.9,147.5 99.0,147.7 99.2,147.8 99.3,147.9 99.4,148.0 99.5,148.1 99.6,148.1 99.7,148.2 99.8,148.2 99.9,148.1 100.0,148.1 100.1,148.0 100.3,147.9 100.4,147.9 100.5,147.8 100.6,147.7 100.7,147.7 100.8,147.6 100.9,147.6 101.0,147.5 101.1,147.5 101.2,147.5 101.4,147.5 101.5,147.5 101.6,147.6 101.7,147.6 101.8,147.6 101.9,147.7 102.0,147.7 102.1,147.8 102.2,147.8 102.4,147.8 102.5,147.8 102.6,147.8 102.7,147.8 102.8,147.8 102.9,147.8 103.0,147.8 103.1,147.8 103.2,147.8 103.3,147.8 103.5,147.7 103.6,147.7 103.7,147.7 103.8,147.7 103.9,147.7 104.0,147.7 104.1,147.7 104.2,147.7 104.3,147.7 104.4,147.7 104.6,147.7 104.7,147.7 104.8,147.7 104.9,147.7 105.0,147.7 105.1,147.7 105.2,147.7 105.3,147.7 105.4,147.7 105.6,147.7 105.7,147.7 105.8,147.7 105.9,147.7 106.0,147.7 106.1,147.7 106.2,147.7 106.3,147.7 106.4,147.7 106.5,147.7 106.7,147.7 106.8,147.7 106.9,147.7 107.0,147.7 107.1,147.7 107.2,147.7 107.3,147.7 107.4,147.7 107.5,147.7 107.6,147.7 107.8,147.7 107.9,147.7 108.0,147.7 108.1,147.7 108.2,147.7 108.3,147.7 108.4,147.7 108.5,147.7 108.6,147.7 108.8,147.7 108.9,147.7 109.0,147.7 109.1,147.7 109.2,147.7 109.3,147.7 109.4,147.7 109.5,147.7 109.6,147.7 109.7,147.7 109.9,147.7 110.0,147.7 110.1,147.7 110.2,147.7 110.3,147.7 110.4,147.7 110.5,147.7 110.6,147.7 110.7,147.7 110.8,147.7 111.0,147.7 111.1,147.7 111.2,147.7 111.3,147.7 111.4,147.7 111.5,147.7 111.6,147.7 111.7,147.7 111.8,147.7 112.0,147.7 112.1,147.7 112.2,147.7 112.3,147.7 112.4,147.7 112.5,147.7 112.6,147.7 112.7,147.7 112.8,147.7 112.9,147.7 113.1,147.7 113.2,147.7 113.3,147.7 113.4,147.7 113.5,147.7 113.6,147.7 113.7,147.7 113.8,147.7 113.9,147.7 114.0,147.7 114.2,147.7 114.3,147.7 114.4,147.7 114.5,147.7 114.6,147.7 114.7,147.7 114.8,147.7 114.9,147.7 115.0,147.7 115.1,147.7 115.3,147.7 115.4,147.7 115.5,147.7 115.6,147.7 115.7,147.7 115.8,147.7 115.9,147.7 116.0,147.7 116.1,147.7 116.3,147.7 116.4,147.7 116.5,147.7 116.6,147.7 116.7,147.7 116.8,147.7 116.9,147.7 117.0,147.7 117.1,147.7 117.2,147.7 117.4,147.7 117.5,147.7 117.6,147.7 117.7,147.7 117.8,147.7 117.9,147.7 118.0,147.7 118.1,147.7 118.2,147.7 118.3,147.7 118.5,147.7 118.6,147.7 118.7,147.7 118.8,147.7 118.9,147.7"/><polyline clip-path="url(#c21)" fill="none" stroke="#2a5c92" stroke-width="1.6" stroke-linejoin="round" points="130.1,132.5 130.2,132.8 130.4,133.8 130.6,135.5 130.8,137.6 131.0,140.2 131.2,143.1 131.4,146.2 131.6,149.3 131.8,152.3 132.0,155.0 132.2,157.3 132.4,159.2 132.6,160.5 132.8,161.2 133.0,161.3 133.2,160.7 133.4,159.6 133.6,158.1 133.8,156.1 134.0,153.8 134.2,151.4 134.4,148.9 134.6,146.4 134.8,144.2 135.0,142.2 135.2,140.5 135.4,139.3 135.6,138.5 135.8,138.2 136.0,138.3 136.2,138.8 136.4,139.7 136.6,140.9 136.8,142.3 137.0,143.8 137.1,145.5 137.3,147.1 137.5,148.6 137.7,149.9 137.9,151.1 138.1,152.0 138.3,152.6 138.5,153.0 138.7,153.1 138.9,152.9 139.1,152.6 139.3,152.0 139.5,151.3 139.7,150.5 139.9,149.7 140.1,148.8 140.3,148.0 140.5,147.3 140.7,146.7 140.9,146.1 141.1,145.8 141.3,145.5 141.5,145.4 141.7,145.4 141.9,145.5 142.1,145.7 142.3,145.9 142.5,146.3 142.7,146.6 142.9,147.0 143.1,147.3 143.3,147.6 143.5,147.9 143.7,148.1 143.9,148.3 144.1,148.5 144.2,148.5 144.4,148.6 144.6,148.5 144.8,148.5 145.0,148.4 145.2,148.3 145.4,148.2 145.6,148.1 145.8,148.0 146.0,147.9 146.2,147.8 146.4,147.7 146.6,147.6 146.8,147.6 147.0,147.5 147.2,147.5 147.4,147.5 147.6,147.5 147.8,147.5 148.0,147.5 148.2,147.6 148.4,147.6 148.6,147.6 148.8,147.7 149.0,147.7 149.2,147.7 149.4,147.7 149.6,147.8 149.8,147.8 150.0,147.8 150.2,147.8 150.4,147.8 150.6,147.8 150.8,147.8 151.0,147.8 151.2,147.8 151.3,147.8 151.5,147.7 151.7,147.7 151.9,147.7 152.1,147.7 152.3,147.7 152.5,147.7 152.7,147.7 152.9,147.7 153.1,147.7 153.3,147.7 153.5,147.7 153.7,147.7 153.9,147.7 154.1,147.7 154.3,147.7 154.5,147.7 154.7,147.7 154.9,147.7 155.1,147.7 155.3,147.7 155.5,147.7 155.7,147.7 155.9,147.7 156.1,147.7 156.3,147.7 156.5,147.7 156.7,147.7 156.9,147.7 157.1,147.7 157.3,147.7 157.5,147.7 157.7,147.7 157.9,147.7 158.1,147.7 158.3,147.7 158.4,147.7 158.6,147.7 158.8,147.7 159.0,147.7 159.2,147.7 159.4,147.7 159.6,147.7 159.8,147.7 160.0,147.7 160.2,147.7 160.4,147.7 160.6,147.7 160.8,147.7 161.0,147.7 161.2,147.7 161.4,147.7 161.6,147.7 161.8,147.7 162.0,147.7 162.2,147.7 162.4,147.7 162.6,147.7 162.8,147.7 163.0,147.7 163.2,147.7 163.4,147.7 163.6,147.7 163.8,147.7 164.0,147.7 164.2,147.7 164.4,147.7 164.6,147.7 164.8,147.7 165.0,147.7 165.2,147.7 165.4,147.7"/><polyline clip-path="url(#c22)" fill="none" stroke="#2a5c92" stroke-width="1.6" stroke-linejoin="round" points="176.5,132.5 176.8,132.8 177.1,133.9 177.4,135.6 177.7,137.8 178.0,140.4 178.3,143.3 178.6,146.3 178.9,149.3 179.2,152.1 179.5,154.6 179.8,156.7 180.1,158.2 180.4,159.2 180.7,159.5 180.9,159.4 181.2,158.7 181.5,157.5 181.8,156.0 182.1,154.2 182.4,152.3 182.7,150.3 183.0,148.4 183.3,146.7 183.6,145.2 183.9,144.0 184.2,143.1 184.5,142.5 184.8,142.2 185.1,142.3 185.4,142.6 185.7,143.1 186.0,143.7 186.3,144.5 186.6,145.3 186.9,146.1 187.2,146.8 187.5,147.5 187.8,148.1 188.1,148.6 188.4,148.9 188.7,149.1 189.0,149.3 189.3,149.3 189.6,149.2 189.8,149.1 190.1,148.9 190.4,148.7 190.7,148.5 191.0,148.3 191.3,148.1 191.6,147.9 191.9,147.8 192.2,147.6 192.5,147.6 192.8,147.5 193.1,147.5 193.4,147.5 193.7,147.5 194.0,147.5 194.3,147.5 194.6,147.6 194.9,147.6 195.2,147.6 195.5,147.7 195.8,147.7 196.1,147.7 196.4,147.7 196.7,147.7 197.0,147.7 197.3,147.8 197.6,147.8 197.9,147.8 198.2,147.8 198.5,147.8 198.7,147.7 199.0,147.7 199.3,147.7 199.6,147.7 199.9,147.7 200.2,147.7 200.5,147.7 200.8,147.7 201.1,147.7 201.4,147.7 201.7,147.7 202.0,147.7 202.3,147.7 202.6,147.7 202.9,147.7 203.2,147.7 203.5,147.7 203.8,147.7 204.1,147.7 204.4,147.7 204.7,147.7 205.0,147.7 205.3,147.7 205.6,147.7 205.9,147.7 206.2,147.7 206.5,147.7 206.8,147.7 207.1,147.7 207.4,147.7 207.6,147.7 207.9,147.7 208.2,147.7 208.5,147.7 208.8,147.7 209.1,147.7 209.4,147.7 209.7,147.7 210.0,147.7 210.3,147.7 210.6,147.7 210.9,147.7 211.2,147.7 211.5,147.7 211.8,147.7"/><polyline clip-path="url(#c23)" fill="none" stroke="#2a5c92" stroke-width="1.6" stroke-linejoin="round" points="223.0,132.5 223.3,132.9 223.7,133.9 224.1,135.7 224.5,137.9 224.9,140.6 225.3,143.5 225.7,146.4 226.1,149.3 226.5,151.9 226.9,154.0 227.3,155.7 227.7,156.9 228.1,157.5 228.5,157.6 228.9,157.1 229.3,156.3 229.7,155.1 230.1,153.8 230.5,152.3 230.9,150.8 231.3,149.4 231.7,148.1 232.1,147.0 232.5,146.2 232.9,145.6 233.3,145.2 233.7,145.1 234.1,145.1 234.5,145.3 234.8,145.5 235.2,145.9 235.6,146.2 236.0,146.6 236.4,146.9 236.8,147.2 237.2,147.5 237.6,147.7 238.0,147.8 238.4,147.9 238.8,148.0 239.2,148.0 239.6,148.0 240.0,148.0 240.4,148.0 240.8,147.9 241.2,147.9 241.6,147.8 242.0,147.8 242.4,147.8 242.8,147.8 243.2,147.7 243.6,147.7 244.0,147.7 244.4,147.7 244.8,147.7 245.2,147.7 245.6,147.7 246.0,147.7 246.4,147.7 246.7,147.7 247.1,147.7 247.5,147.7 247.9,147.7 248.3,147.7 248.7,147.7 249.1,147.7 249.5,147.7 249.9,147.7 250.3,147.7 250.7,147.7 251.1,147.7 251.5,147.7 251.9,147.7 252.3,147.7 252.7,147.7 253.1,147.7 253.5,147.7 253.9,147.7 254.3,147.7 254.7,147.7 255.1,147.7 255.5,147.7 255.9,147.7 256.3,147.7 256.7,147.7 257.1,147.7 257.5,147.7 257.9,147.7 258.2,147.7"/><polyline clip-path="url(#c24)" fill="none" stroke="#2a5c92" stroke-width="1.6" stroke-linejoin="round" points="269.4,132.5 269.8,132.6 270.3,133.1 270.7,133.8 271.2,134.7 271.6,135.8 272.0,137.2 272.5,138.6 272.9,140.1 273.4,141.7 273.8,143.2 274.3,144.7 274.7,146.0 275.1,147.3 275.6,148.4 276.0,149.3 276.5,150.1 276.9,150.6 277.3,151.1 277.8,151.3 278.2,151.4 278.7,151.4 279.1,151.3 279.5,151.1 280.0,150.9 280.4,150.6 280.9,150.2 281.3,149.9 281.8,149.6 282.2,149.3 282.6,149.0 283.1,148.8 283.5,148.5 284.0,148.4 284.4,148.2 284.8,148.1 285.3,148.0 285.7,147.9 286.2,147.8 286.6,147.8 287.0,147.7 287.5,147.7 287.9,147.7 288.4,147.7 288.8,147.7 289.3,147.7 289.7,147.7 290.1,147.7 290.6,147.7 291.0,147.7 291.5,147.7 291.9,147.7 292.3,147.7 292.8,147.7 293.2,147.7 293.7,147.7 294.1,147.7 294.6,147.7 295.0,147.7 295.4,147.7 295.9,147.7 296.3,147.7 296.8,147.7 297.2,147.7 297.6,147.7 298.1,147.7 298.5,147.7 299.0,147.7 299.4,147.7 299.8,147.7 300.3,147.7 300.7,147.7 301.2,147.7 301.6,147.7 302.1,147.7 302.5,147.7 302.9,147.7 303.4,147.7 303.8,147.7 304.3,147.7 304.7,147.7"/><polyline clip-path="url(#c25)" fill="none" stroke="#2a5c92" stroke-width="1.6" stroke-linejoin="round" points="315.9,132.5 316.3,132.5 316.7,132.7 317.2,133.0 317.6,133.4 318.1,133.9 318.5,134.5 318.9,135.2 319.4,135.9 319.8,136.7 320.3,137.5 320.7,138.4 321.1,139.2 321.6,140.1 322.0,140.9 322.5,141.7 322.9,142.4 323.4,143.1 323.8,143.8 324.2,144.4 324.7,145.0 325.1,145.5 325.6,145.9 326.0,146.3 326.4,146.6 326.9,146.9 327.3,147.1 327.8,147.3 328.2,147.5 328.6,147.6 329.1,147.7 329.5,147.7 330.0,147.8 330.4,147.8 330.9,147.8 331.3,147.9 331.7,147.9 332.2,147.9 332.6,147.8 333.1,147.8 333.5,147.8 333.9,147.8 334.4,147.8 334.8,147.8 335.3,147.8 335.7,147.8 336.1,147.8 336.6,147.8 337.0,147.8 337.5,147.8 337.9,147.7 338.4,147.7 338.8,147.7 339.2,147.7 339.7,147.7 340.1,147.7 340.6,147.7 341.0,147.7 341.4,147.7 341.9,147.7 342.3,147.7 342.8,147.7 343.2,147.7 343.6,147.7 344.1,147.7 344.5,147.7 345.0,147.7 345.4,147.7 345.9,147.7 346.3,147.7 346.7,147.7 347.2,147.7 347.6,147.7 348.1,147.7 348.5,147.7 348.9,147.7 349.4,147.7 349.8,147.7 350.3,147.7 350.7,147.7 351.2,147.7"/><polyline clip-path="url(#c26)" fill="none" stroke="#2a5c92" stroke-width="1.6" stroke-linejoin="round" points="362.3,132.5 362.7,132.5 363.2,132.6 363.6,132.8 364.1,133.1 364.5,133.5 364.9,133.9 365.4,134.4 365.8,134.9 366.3,135.5 366.7,136.1 367.2,136.8 367.6,137.4 368.0,138.1 368.5,138.8 368.9,139.5 369.4,140.1 369.8,140.8 370.2,141.4 370.7,142.0 371.1,142.6 371.6,143.1 372.0,143.6 372.4,144.1 372.9,144.5 373.3,144.9 373.8,145.3 374.2,145.6 374.7,145.9 375.1,146.2 375.5,146.4 376.0,146.6 376.4,146.8 376.9,146.9 377.3,147.1 377.7,147.2 378.2,147.3 378.6,147.4 379.1,147.4 379.5,147.5 380.0,147.5 380.4,147.6 380.8,147.6 381.3,147.6 381.7,147.7 382.2,147.7 382.6,147.7 383.0,147.7 383.5,147.7 383.9,147.7 384.4,147.7 384.8,147.7 385.2,147.7 385.7,147.7 386.1,147.7 386.6,147.7 387.0,147.7 387.5,147.7 387.9,147.7 388.3,147.7 388.8,147.7 389.2,147.7 389.7,147.7 390.1,147.7 390.5,147.7 391.0,147.7 391.4,147.7 391.9,147.7 392.3,147.7 392.7,147.7 393.2,147.7 393.6,147.7 394.1,147.7 394.5,147.7 395.0,147.7 395.4,147.7 395.8,147.7 396.3,147.7 396.7,147.7 397.2,147.7 397.6,147.7"/><polyline clip-path="url(#c30)" fill="none" stroke="#2a5c92" stroke-width="1.6" stroke-linejoin="round" points="83.6,175.0 83.7,175.4 83.8,176.7 83.9,178.7 84.0,181.3 84.2,184.4 84.3,187.8 84.4,191.4 84.5,194.9 84.6,198.1 84.7,200.9 84.8,203.1 84.9,204.6 85.0,205.4 85.1,205.2 85.3,204.3 85.4,202.6 85.5,200.2 85.6,197.3 85.7,194.0 85.8,190.5 85.9,187.0 86.0,183.7 86.1,180.8 86.2,178.4 86.4,176.6 86.5,175.7 86.6,175.5 86.7,176.1 86.8,177.5 86.9,179.6 87.0,182.2 87.1,185.3 87.2,188.7 87.4,192.1 87.5,195.4 87.6,198.4 87.7,201.0 87.8,202.9 87.9,204.1 88.0,204.6 88.1,204.3 88.2,203.2 88.3,201.4 88.5,199.0 88.6,196.2 88.7,193.1 88.8,189.8 88.9,186.5 89.0,183.5 89.1,180.9 89.2,178.8 89.3,177.4 89.4,176.7 89.6,176.7 89.7,177.5 89.8,178.9 89.9,181.0 90.0,183.6 90.1,186.5 90.2,189.5 90.3,192.6 90.4,195.6 90.5,198.2 90.7,200.4 90.8,201.9 90.9,202.9 91.0,203.1 91.1,202.6 91.2,201.5 91.3,199.8 91.4,197.5 91.5,194.9 91.7,192.1 91.8,189.2 91.9,186.4 92.0,183.8 92.1,181.6 92.2,179.9 92.3,178.8 92.4,178.4 92.5,178.6 92.6,179.4 92.8,180.8 92.9,182.7 93.0,185.0 93.1,187.6 93.2,190.3 93.3,192.9 93.4,195.4 93.5,197.5 93.6,199.2 93.7,200.4 93.9,201.1 94.0,201.1 94.1,200.6 94.2,199.5 94.3,197.9 94.4,195.9 94.5,193.6 94.6,191.2 94.7,188.8 94.9,186.5 95.0,184.4 95.1,182.7 95.2,181.4 95.3,180.7 95.4,180.4 95.5,180.7 95.6,181.6 95.7,182.8 95.8,184.5 96.0,186.5 96.1,188.6 96.2,190.8 96.3,192.9 96.4,194.8 96.5,196.5 96.6,197.8 96.7,198.6 96.8,199.0 96.9,198.9 97.1,198.3 97.2,197.3 97.3,196.0 97.4,194.3 97.5,192.5 97.6,190.6 97.7,188.7 97.8,186.9 97.9,185.3 98.1,184.1 98.2,183.2 98.3,182.7 98.4,182.6 98.5,183.0 98.6,183.7 98.7,184.8 98.8,186.1 98.9,187.7 99.0,189.4 99.2,191.0 99.3,192.6 99.4,194.1 99.5,195.3 99.6,196.2 99.7,196.7 99.8,196.9 99.9,196.8 100.0,196.2 100.1,195.4 100.3,194.3 100.4,193.0 100.5,191.6 100.6,190.2 100.7,188.8 100.8,187.5 100.9,186.4 101.0,185.5 101.1,184.9 101.2,184.6 101.4,184.6 101.5,185.0 101.6,185.6 101.7,186.4 101.8,187.5 101.9,188.7 102.0,189.9 102.1,191.1 102.2,192.2 102.4,193.2 102.5,194.1 102.6,194.6 102.7,195.0 102.8,195.1 102.9,194.9 103.0,194.4 103.1,193.8 103.2,193.0 103.3,192.0 103.5,191.0 103.6,190.0 103.7,189.0 103.8,188.1 103.9,187.4 104.0,186.8 104.1,186.4 104.2,186.3 104.3,186.4 104.4,186.7 104.6,187.1 104.7,187.8 104.8,188.5 104.9,189.3 105.0,190.2 105.1,191.0 105.2,191.8 105.3,192.5 105.4,193.0 105.6,193.3 105.7,193.5 105.8,193.5 105.9,193.3 106.0,193.0 106.1,192.5 106.2,191.9 106.3,191.3 106.4,190.6 106.5,189.9 106.7,189.3 106.8,188.7 106.9,188.2 107.0,187.9 107.1,187.7 107.2,187.6 107.3,187.7 107.4,187.9 107.5,188.3 107.6,188.7 107.8,189.2 107.9,189.8 108.0,190.4 108.1,190.9 108.2,191.4 108.3,191.8 108.4,192.1 108.5,192.3 108.6,192.4 108.8,192.3 108.9,192.2 109.0,192.0 109.1,191.6 109.2,191.2 109.3,190.8 109.4,190.4 109.5,189.9 109.6,189.5 109.7,189.2 109.9,188.9 110.0,188.7 110.1,188.6 110.2,188.6 110.3,188.7 110.4,188.9 110.5,189.1 110.6,189.4 110.7,189.7 110.8,190.1 111.0,190.4 111.1,190.7 111.2,191.0 111.3,191.2 111.4,191.4 111.5,191.5 111.6,191.6 111.7,191.5 111.8,191.4 112.0,191.3 112.1,191.0 112.2,190.8 112.3,190.5 112.4,190.3 112.5,190.0 112.6,189.8 112.7,189.6 112.8,189.4 112.9,189.3 113.1,189.3 113.2,189.3 113.3,189.4 113.4,189.5 113.5,189.6 113.6,189.8 113.7,190.0 113.8,190.2 113.9,190.4 114.0,190.6 114.2,190.7 114.3,190.9 114.4,191.0 114.5,191.0 114.6,191.0 114.7,191.0 114.8,190.9 114.9,190.8 115.0,190.7 115.1,190.5 115.3,190.4 115.4,190.2 115.5,190.1 115.6,190.0 115.7,189.9 115.8,189.8 115.9,189.7 116.0,189.7 116.1,189.7 116.3,189.8 116.4,189.8 116.5,189.9 116.6,190.0 116.7,190.1 116.8,190.3 116.9,190.4 117.0,190.5 117.1,190.5 117.2,190.6 117.4,190.7 117.5,190.7 117.6,190.7 117.7,190.7 117.8,190.6 117.9,190.5 118.0,190.5 118.1,190.4 118.2,190.3 118.3,190.2 118.5,190.2 118.6,190.1 118.7,190.0 118.8,190.0 118.9,190.0"/><polyline clip-path="url(#c31)" fill="none" stroke="#2a5c92" stroke-width="1.6" stroke-linejoin="round" points="130.1,175.0 130.2,175.4 130.4,176.3 130.6,178.0 130.8,180.1 131.0,182.7 131.2,185.6 131.4,188.7 131.6,191.9 131.8,195.0 132.0,197.8 132.2,200.4 132.4,202.4 132.6,203.9 132.8,204.8 133.0,205.1 133.2,204.7 133.4,203.7 133.6,202.1 133.8,200.0 134.0,197.4 134.2,194.6 134.4,191.7 134.6,188.7 134.8,185.8 135.0,183.1 135.2,180.8 135.4,178.9 135.6,177.6 135.8,176.8 136.0,176.6 136.2,177.0 136.4,178.0 136.6,179.6 136.8,181.5 137.0,183.8 137.1,186.4 137.3,189.1 137.5,191.8 137.7,194.3 137.9,196.7 138.1,198.7 138.3,200.3 138.5,201.5 138.7,202.1 138.9,202.2 139.1,201.7 139.3,200.8 139.5,199.5 139.7,197.7 139.9,195.7 140.1,193.5 140.3,191.2 140.5,188.9 140.7,186.8 140.9,184.8 141.1,183.2 141.3,181.9 141.5,181.0 141.7,180.5 141.9,180.5 142.1,180.9 142.3,181.7 142.5,182.8 142.7,184.2 142.9,185.9 143.1,187.7 143.3,189.6 143.5,191.4 143.7,193.1 143.9,194.6 144.1,195.9 144.2,196.9 144.4,197.6 144.6,197.9 144.8,197.9 145.0,197.6 145.2,196.9 145.4,196.0 145.6,194.9 145.8,193.6 146.0,192.2 146.2,190.8 146.4,189.4 146.6,188.1 146.8,187.0 147.0,186.0 147.2,185.3 147.4,184.8 147.6,184.6 147.8,184.6 148.0,184.9 148.2,185.4 148.4,186.1 148.6,186.9 148.8,187.9 149.0,188.9 149.2,189.9 149.4,190.9 149.6,191.8 149.8,192.6 150.0,193.3 150.2,193.8 150.4,194.1 150.6,194.3 150.8,194.2 151.0,194.0 151.2,193.6 151.3,193.1 151.5,192.6 151.7,191.9 151.9,191.2 152.1,190.5 152.3,189.8 152.5,189.2 152.7,188.7 152.9,188.2 153.1,187.9 153.3,187.7 153.5,187.6 153.7,187.7 153.9,187.8 154.1,188.1 154.3,188.4 154.5,188.8 154.7,189.2 154.9,189.7 155.1,190.1 155.3,190.6 155.5,191.0 155.7,191.3 155.9,191.6 156.1,191.8 156.3,191.9 156.5,191.9 156.7,191.9 156.9,191.8 157.1,191.6 157.3,191.4 157.5,191.2 157.7,190.9 157.9,190.6 158.1,190.3 158.3,190.1 158.4,189.8 158.6,189.6 158.8,189.5 159.0,189.4 159.2,189.3 159.4,189.3 159.6,189.3 159.8,189.4 160.0,189.5 160.2,189.6 160.4,189.7 160.6,189.9 160.8,190.1 161.0,190.2 161.2,190.4 161.4,190.5 161.6,190.6 161.8,190.7 162.0,190.8 162.2,190.8 162.4,190.8 162.6,190.8 162.8,190.8 163.0,190.7 163.2,190.6 163.4,190.6 163.6,190.5 163.8,190.4 164.0,190.3 164.2,190.2 164.4,190.1 164.6,190.1 164.8,190.0 165.0,190.0 165.2,190.0 165.4,190.0"/><polyline clip-path="url(#c32)" fill="none" stroke="#2a5c92" stroke-width="1.6" stroke-linejoin="round" points="176.5,175.0 176.8,175.4 177.1,176.4 177.4,178.0 177.7,180.2 178.0,182.8 178.3,185.7 178.6,188.8 178.9,191.9 179.2,195.0 179.5,197.8 179.8,200.3 180.1,202.2 180.4,203.6 180.7,204.4 180.9,204.6 181.2,204.1 181.5,203.0 181.8,201.4 182.1,199.3 182.4,196.9 182.7,194.2 183.0,191.4 183.3,188.6 183.6,186.0 183.9,183.6 184.2,181.6 184.5,180.0 184.8,178.9 185.1,178.4 185.4,178.4 185.7,178.9 186.0,179.9 186.3,181.4 186.6,183.1 186.9,185.2 187.2,187.3 187.5,189.5 187.8,191.7 188.1,193.7 188.4,195.5 188.7,196.9 189.0,198.1 189.3,198.8 189.6,199.1 189.8,199.0 190.1,198.5 190.4,197.7 190.7,196.6 191.0,195.2 191.3,193.8 191.6,192.2 191.9,190.7 192.2,189.2 192.5,187.8 192.8,186.7 193.1,185.7 193.4,185.1 193.7,184.7 194.0,184.5 194.3,184.6 194.6,185.0 194.9,185.6 195.2,186.3 195.5,187.2 195.8,188.2 196.1,189.1 196.4,190.1 196.7,191.0 197.0,191.8 197.3,192.5 197.6,193.0 197.9,193.3 198.2,193.5 198.5,193.6 198.7,193.5 199.0,193.2 199.3,192.9 199.6,192.4 199.9,191.9 200.2,191.4 200.5,190.9 200.8,190.3 201.1,189.9 201.4,189.4 201.7,189.1 202.0,188.8 202.3,188.7 202.6,188.6 202.9,188.6 203.2,188.7 203.5,188.8 203.8,189.0 204.1,189.2 204.4,189.5 204.7,189.7 205.0,190.0 205.3,190.3 205.6,190.5 205.9,190.7 206.2,190.8 206.5,190.9 206.8,191.0 207.1,191.0 207.4,191.0 207.6,191.0 207.9,190.9 208.2,190.8 208.5,190.7 208.8,190.6 209.1,190.5 209.4,190.4 209.7,190.3 210.0,190.2 210.3,190.1 210.6,190.0 210.9,190.0 211.2,190.0 211.5,190.0 211.8,190.0"/><polyline clip-path="url(#c33)" fill="none" stroke="#2a5c92" stroke-width="1.6" stroke-linejoin="round" points="223.0,175.0 223.3,175.4 223.7,176.4 224.1,178.0 224.5,180.2 224.9,182.8 225.3,185.8 225.7,188.9 226.1,192.0 226.5,195.0 226.9,197.7 227.3,200.1 227.7,201.9 228.1,203.2 228.5,203.9 228.9,203.9 229.3,203.3 229.7,202.2 230.1,200.6 230.5,198.5 230.9,196.2 231.3,193.7 231.7,191.1 232.1,188.6 232.5,186.3 232.9,184.3 233.3,182.6 233.7,181.4 234.1,180.6 234.5,180.3 234.8,180.5 235.2,181.1 235.6,182.1 236.0,183.3 236.4,184.9 236.8,186.5 237.2,188.2 237.6,189.9 238.0,191.5 238.4,192.9 238.8,194.1 239.2,195.0 239.6,195.7 240.0,196.0 240.4,196.1 240.8,195.9 241.2,195.4 241.6,194.8 242.0,194.0 242.4,193.1 242.8,192.2 243.2,191.3 243.6,190.4 244.0,189.6 244.4,188.9 244.8,188.3 245.2,187.9 245.6,187.7 246.0,187.5 246.4,187.6 246.7,187.7 247.1,188.0 247.5,188.3 247.9,188.7 248.3,189.1 248.7,189.5 249.1,189.9 249.5,190.3 249.9,190.6 250.3,190.9 250.7,191.1 251.1,191.2 251.5,191.3 251.9,191.3 252.3,191.3 252.7,191.2 253.1,191.1 253.5,191.0 253.9,190.8 254.3,190.7 254.7,190.5 255.1,190.4 255.5,190.3 255.9,190.2 256.3,190.1 256.7,190.0 257.1,190.0 257.5,190.0 257.9,190.0 258.2,190.0"/><polyline clip-path="url(#c34)" fill="none" stroke="#2a5c92" stroke-width="1.6" stroke-linejoin="round" points="269.4,175.0 269.8,175.1 270.3,175.5 270.7,176.0 271.2,176.8 271.6,177.8 272.0,178.9 272.5,180.2 272.9,181.6 273.4,183.1 273.8,184.7 274.3,186.4 274.7,188.0 275.1,189.6 275.6,191.2 276.0,192.8 276.5,194.2 276.9,195.5 277.3,196.7 277.8,197.8 278.2,198.6 278.7,199.3 279.1,199.9 279.5,200.2 280.0,200.4 280.4,200.4 280.9,200.3 281.3,200.0 281.8,199.6 282.2,199.1 282.6,198.4 283.1,197.7 283.5,196.9 284.0,196.1 284.4,195.2 284.8,194.4 285.3,193.5 285.7,192.7 286.2,191.8 286.6,191.1 287.0,190.4 287.5,189.7 287.9,189.2 288.4,188.7 288.8,188.2 289.3,187.9 289.7,187.6 290.1,187.4 290.6,187.3 291.0,187.3 291.5,187.3 291.9,187.3 292.3,187.4 292.8,187.5 293.2,187.7 293.7,187.9 294.1,188.1 294.6,188.4 295.0,188.6 295.4,188.8 295.9,189.0 296.3,189.3 296.8,189.5 297.2,189.7 297.6,189.9 298.1,190.0 298.5,190.2 299.0,190.3 299.4,190.4 299.8,190.5 300.3,190.5 300.7,190.6 301.2,190.6 301.6,190.7 302.1,190.7 302.5,190.7 302.9,190.7 303.4,190.6 303.8,190.6 304.3,190.6 304.7,190.6"/><polyline clip-path="url(#c35)" fill="none" stroke="#2a5c92" stroke-width="1.6" stroke-linejoin="round" points="315.9,175.0 316.3,175.0 316.7,175.1 317.2,175.3 317.6,175.5 318.1,175.7 318.5,176.0 318.9,176.4 319.4,176.8 319.8,177.3 320.3,177.7 320.7,178.3 321.1,178.8 321.6,179.4 322.0,180.0 322.5,180.7 322.9,181.3 323.4,182.0 323.8,182.7 324.2,183.3 324.7,184.0 325.1,184.7 325.6,185.3 326.0,186.0 326.4,186.6 326.9,187.2 327.3,187.8 327.8,188.4 328.2,188.9 328.6,189.4 329.1,189.9 329.5,190.3 330.0,190.7 330.4,191.1 330.9,191.5 331.3,191.8 331.7,192.1 332.2,192.3 332.6,192.5 333.1,192.7 333.5,192.8 333.9,193.0 334.4,193.1 334.8,193.1 335.3,193.2 335.7,193.2 336.1,193.2 336.6,193.2 337.0,193.1 337.5,193.1 337.9,193.0 338.4,192.9 338.8,192.8 339.2,192.7 339.7,192.6 340.1,192.5 340.6,192.4 341.0,192.3 341.4,192.2 341.9,192.1 342.3,191.9 342.8,191.8 343.2,191.7 343.6,191.6 344.1,191.5 344.5,191.4 345.0,191.3 345.4,191.2 345.9,191.1 346.3,191.0 346.7,191.0 347.2,190.9 347.6,190.8 348.1,190.8 348.5,190.7 348.9,190.6 349.4,190.6 349.8,190.6 350.3,190.5 350.7,190.5 351.2,190.5"/><polyline clip-path="url(#c36)" fill="none" stroke="#2a5c92" stroke-width="1.6" stroke-linejoin="round" points="362.3,175.0 362.7,175.0 363.2,175.1 363.6,175.1 364.1,175.2 364.5,175.3 364.9,175.4 365.4,175.5 365.8,175.7 366.3,175.8 366.7,176.0 367.2,176.2 367.6,176.4 368.0,176.7 368.5,176.9 368.9,177.2 369.4,177.4 369.8,177.7 370.2,178.0 370.7,178.3 371.1,178.6 371.6,178.9 372.0,179.3 372.4,179.6 372.9,179.9 373.3,180.3 373.8,180.6 374.2,180.9 374.7,181.3 375.1,181.6 375.5,182.0 376.0,182.3 376.4,182.6 376.9,183.0 377.3,183.3 377.7,183.6 378.2,183.9 378.6,184.2 379.1,184.5 379.5,184.8 380.0,185.1 380.4,185.4 380.8,185.6 381.3,185.9 381.7,186.1 382.2,186.4 382.6,186.6 383.0,186.8 383.5,187.1 383.9,187.3 384.4,187.5 384.8,187.6 385.2,187.8 385.7,188.0 386.1,188.2 386.6,188.3 387.0,188.4 387.5,188.6 387.9,188.7 388.3,188.8 388.8,188.9 389.2,189.0 389.7,189.1 390.1,189.2 390.5,189.3 391.0,189.4 391.4,189.5 391.9,189.5 392.3,189.6 392.7,189.7 393.2,189.7 393.6,189.8 394.1,189.8 394.5,189.9 395.0,189.9 395.4,189.9 395.8,190.0 396.3,190.0 396.7,190.0 397.2,190.1 397.6,190.1"/><polyline clip-path="url(#c40)" fill="none" stroke="#2a5c92" stroke-width="1.6" stroke-linejoin="round" points="83.6,217.6 83.7,218.0 83.8,219.2 83.9,221.2 84.0,223.8 84.2,226.9 84.3,230.3 84.4,233.9 84.5,237.4 84.6,240.7 84.7,243.5 84.8,245.7 84.9,247.2 85.0,248.0 85.1,247.9 85.3,246.9 85.4,245.2 85.5,242.9 85.6,239.9 85.7,236.6 85.8,233.1 85.9,229.6 86.0,226.2 86.1,223.2 86.2,220.8 86.4,219.0 86.5,217.9 86.6,217.7 86.7,218.3 86.8,219.7 86.9,221.9 87.0,224.6 87.1,227.7 87.2,231.2 87.4,234.7 87.5,238.1 87.6,241.2 87.7,243.9 87.8,245.9 87.9,247.2 88.0,247.8 88.1,247.5 88.2,246.4 88.3,244.5 88.5,242.0 88.6,239.1 88.7,235.8 88.8,232.3 88.9,228.8 89.0,225.6 89.1,222.8 89.2,220.6 89.3,219.0 89.4,218.2 89.6,218.2 89.7,219.0 89.8,220.5 89.9,222.7 90.0,225.5 90.1,228.6 90.2,232.0 90.3,235.4 90.4,238.7 90.5,241.6 90.7,244.0 90.8,245.9 90.9,247.0 91.0,247.3 91.1,246.8 91.2,245.6 91.3,243.6 91.4,241.1 91.5,238.1 91.7,234.9 91.8,231.5 91.9,228.3 92.0,225.3 92.1,222.7 92.2,220.7 92.3,219.3 92.4,218.7 92.5,218.9 92.6,219.8 92.8,221.5 92.9,223.7 93.0,226.5 93.1,229.5 93.2,232.8 93.3,236.0 93.4,239.1 93.5,241.8 93.6,244.0 93.7,245.5 93.9,246.4 94.0,246.5 94.1,245.9 94.2,244.5 94.3,242.6 94.4,240.0 94.5,237.2 94.6,234.0 94.7,230.9 94.9,227.8 95.0,225.1 95.1,222.7 95.2,221.0 95.3,219.9 95.4,219.5 95.5,219.8 95.6,220.9 95.7,222.6 95.8,224.8 96.0,227.5 96.1,230.4 96.2,233.5 96.3,236.5 96.4,239.3 96.5,241.7 96.6,243.6 96.7,245.0 96.8,245.6 96.9,245.5 97.1,244.8 97.2,243.4 97.3,241.4 97.4,239.0 97.5,236.2 97.6,233.3 97.7,230.3 97.8,227.6 97.9,225.1 98.1,223.0 98.2,221.6 98.3,220.7 98.4,220.5 98.5,221.0 98.6,222.1 98.7,223.8 98.8,226.0 98.9,228.5 99.0,231.3 99.2,234.1 99.3,236.8 99.4,239.3 99.5,241.5 99.6,243.1 99.7,244.2 99.8,244.6 99.9,244.4 100.0,243.6 100.1,242.1 100.3,240.2 100.4,237.9 100.5,235.3 100.6,232.6 100.7,230.0 100.8,227.5 100.9,225.3 101.0,223.5 101.1,222.3 101.2,221.7 101.4,221.6 101.5,222.2 101.6,223.4 101.7,225.0 101.8,227.1 101.9,229.5 102.0,232.0 102.1,234.6 102.2,237.0 102.4,239.2 102.5,241.0 102.6,242.4 102.7,243.2 102.8,243.5 102.9,243.1 103.0,242.2 103.1,240.8 103.2,239.0 103.3,236.9 103.5,234.5 103.6,232.1 103.7,229.7 103.8,227.5 103.9,225.7 104.0,224.2 104.1,223.2 104.2,222.8 104.3,222.9 104.4,223.5 104.6,224.7 104.7,226.2 104.8,228.2 104.9,230.3 105.0,232.6 105.1,234.9 105.2,237.0 105.3,238.9 105.4,240.4 105.6,241.5 105.7,242.2 105.8,242.3 105.9,241.8 106.0,240.9 106.1,239.6 106.2,237.9 106.3,235.9 106.4,233.8 106.5,231.7 106.7,229.6 106.8,227.7 106.9,226.2 107.0,225.0 107.1,224.2 107.2,223.9 107.3,224.1 107.4,224.8 107.5,225.9 107.6,227.4 107.8,229.2 107.9,231.1 108.0,233.1 108.1,235.1 108.2,236.9 108.3,238.5 108.4,239.7 108.5,240.6 108.6,241.0 108.8,241.0 108.9,240.5 109.0,239.7 109.1,238.4 109.2,236.9 109.3,235.1 109.4,233.3 109.5,231.4 109.6,229.6 109.7,228.1 109.9,226.8 110.0,225.8 110.1,225.3 110.2,225.1 110.3,225.4 110.4,226.1 110.5,227.1 110.6,228.5 110.7,230.0 110.8,231.7 111.0,233.5 111.1,235.1 111.2,236.7 111.3,238.0 111.4,239.0 111.5,239.6 111.6,239.9 111.7,239.8 111.8,239.3 112.0,238.5 112.1,237.3 112.2,235.9 112.3,234.4 112.4,232.8 112.5,231.2 112.6,229.8 112.7,228.5 112.8,227.5 112.9,226.7 113.1,226.3 113.2,226.3 113.3,226.6 113.4,227.3 113.5,228.2 113.6,229.4 113.7,230.8 113.8,232.2 113.9,233.7 114.0,235.1 114.2,236.3 114.3,237.4 114.4,238.2 114.5,238.7 114.6,238.8 114.7,238.6 114.8,238.1 114.9,237.4 115.0,236.4 115.1,235.2 115.3,233.9 115.4,232.5 115.5,231.2 115.6,230.0 115.7,229.0 115.8,228.2 115.9,227.6 116.0,227.4 116.1,227.4 116.3,227.7 116.4,228.4 116.5,229.2 116.6,230.2 116.7,231.4 116.8,232.6 116.9,233.8 117.0,235.0 117.1,236.0 117.2,236.8 117.4,237.4 117.5,237.7 117.6,237.8 117.7,237.6 117.8,237.1 117.9,236.4 118.0,235.5 118.1,234.5 118.2,233.4 118.3,232.3 118.5,231.2 118.6,230.3 118.7,229.5 118.8,228.8 118.9,228.5"/><polyline clip-path="url(#c41)" fill="none" stroke="#2a5c92" stroke-width="1.6" stroke-linejoin="round" points="130.1,217.6 130.2,217.9 130.4,218.9 130.6,220.5 130.8,222.6 131.0,225.2 131.2,228.1 131.4,231.3 131.6,234.4 131.8,237.6 132.0,240.5 132.2,243.0 132.4,245.1 132.6,246.7 132.8,247.6 133.0,247.9 133.2,247.6 133.4,246.6 133.6,244.9 133.8,242.8 134.0,240.2 134.2,237.3 134.4,234.3 134.6,231.1 134.8,228.1 135.0,225.2 135.2,222.8 135.4,220.7 135.6,219.2 135.8,218.3 136.0,218.1 136.2,218.5 136.4,219.5 136.6,221.1 136.8,223.2 137.0,225.7 137.1,228.5 137.3,231.5 137.5,234.5 137.7,237.4 137.9,240.2 138.1,242.5 138.3,244.5 138.5,245.9 138.7,246.7 138.9,246.9 139.1,246.5 139.3,245.5 139.5,244.0 139.7,241.9 139.9,239.5 140.1,236.8 140.3,234.0 140.5,231.1 140.7,228.3 140.9,225.8 141.1,223.5 141.3,221.7 141.5,220.4 141.7,219.7 141.9,219.5 142.1,219.9 142.3,220.9 142.5,222.4 142.7,224.3 142.9,226.6 143.1,229.1 143.3,231.8 143.5,234.5 143.7,237.0 143.9,239.4 144.1,241.5 144.2,243.1 144.4,244.3 144.6,245.0 144.8,245.1 145.0,244.7 145.2,243.8 145.4,242.4 145.6,240.6 145.8,238.5 146.0,236.2 146.2,233.7 146.4,231.2 146.6,228.9 146.8,226.7 147.0,224.8 147.2,223.3 147.4,222.3 147.6,221.7 147.8,221.6 148.0,222.0 148.2,222.8 148.4,224.1 148.6,225.8 148.8,227.7 149.0,229.8 149.2,232.1 149.4,234.3 149.6,236.4 149.8,238.4 150.0,240.0 150.2,241.4 150.4,242.3 150.6,242.8 150.8,242.9 151.0,242.5 151.2,241.7 151.3,240.5 151.5,239.0 151.7,237.3 151.9,235.4 152.1,233.4 152.3,231.5 152.5,229.6 152.7,227.9 152.9,226.4 153.1,225.2 153.3,224.4 153.5,224.0 153.7,224.0 153.9,224.3 154.1,225.0 154.3,226.1 154.5,227.4 154.7,228.9 154.9,230.6 155.1,232.3 155.3,234.0 155.5,235.7 155.7,237.2 155.9,238.4 156.1,239.4 156.3,240.1 156.5,240.4 156.7,240.5 156.9,240.1 157.1,239.5 157.3,238.6 157.5,237.5 157.7,236.1 157.9,234.7 158.1,233.2 158.3,231.7 158.4,230.3 158.6,229.1 158.8,228.0 159.0,227.2 159.2,226.6 159.4,226.3 159.6,226.3 159.8,226.6 160.0,227.1 160.2,227.9 160.4,228.9 160.6,230.0 160.8,231.3 161.0,232.5 161.2,233.8 161.4,234.9 161.6,236.0 161.8,236.9 162.0,237.6 162.2,238.0 162.4,238.3 162.6,238.3 162.8,238.0 163.0,237.5 163.2,236.9 163.4,236.0 163.6,235.1 163.8,234.1 164.0,233.0 164.2,232.0 164.4,231.0 164.6,230.2 164.8,229.4 165.0,228.9 165.2,228.5 165.4,228.3"/><polyline clip-path="url(#c42)" fill="none" stroke="#2a5c92" stroke-width="1.6" stroke-linejoin="round" points="176.5,217.6 176.8,217.9 177.1,218.9 177.4,220.5 177.7,222.7 178.0,225.3 178.3,228.2 178.6,231.3 178.9,234.5 179.2,237.6 179.5,240.5 179.8,243.0 180.1,245.1 180.4,246.6 180.7,247.5 180.9,247.8 181.2,247.4 181.5,246.3 181.8,244.7 182.1,242.5 182.4,239.9 182.7,237.1 183.0,234.0 183.3,231.0 183.6,228.0 183.9,225.3 184.2,222.9 184.5,221.0 184.8,219.6 185.1,218.9 185.4,218.7 185.7,219.2 186.0,220.2 186.3,221.8 186.6,223.9 186.9,226.3 187.2,229.0 187.5,231.9 187.8,234.7 188.1,237.4 188.4,239.9 188.7,242.0 189.0,243.7 189.3,244.9 189.6,245.6 189.8,245.6 190.1,245.1 190.4,244.1 190.7,242.6 191.0,240.7 191.3,238.5 191.6,236.0 191.9,233.5 192.2,231.0 192.5,228.6 192.8,226.4 193.1,224.6 193.4,223.1 193.7,222.1 194.0,221.6 194.3,221.6 194.6,222.1 194.9,223.1 195.2,224.4 195.5,226.1 195.8,228.1 196.1,230.2 196.4,232.4 196.7,234.5 197.0,236.6 197.3,238.4 197.6,239.9 197.9,241.1 198.2,241.9 198.5,242.3 198.7,242.2 199.0,241.8 199.3,240.9 199.6,239.7 199.9,238.3 200.2,236.6 200.5,234.9 200.8,233.0 201.1,231.3 201.4,229.6 201.7,228.1 202.0,226.9 202.3,226.0 202.6,225.4 202.9,225.1 203.2,225.2 203.5,225.6 203.8,226.3 204.1,227.3 204.4,228.5 204.7,229.8 205.0,231.3 205.3,232.7 205.6,234.1 205.9,235.4 206.2,236.6 206.5,237.5 206.8,238.2 207.1,238.7 207.4,238.8 207.6,238.7 207.9,238.4 208.2,237.8 208.5,237.0 208.8,236.1 209.1,235.0 209.4,233.9 209.7,232.8 210.0,231.7 210.3,230.8 210.6,229.9 210.9,229.2 211.2,228.7 211.5,228.4 211.8,228.3"/><polyline clip-path="url(#c43)" fill="none" stroke="#2a5c92" stroke-width="1.6" stroke-linejoin="round" points="223.0,217.6 223.3,217.9 223.7,218.9 224.1,220.5 224.5,222.7 224.9,225.3 225.3,228.3 225.7,231.4 226.1,234.6 226.5,237.7 226.9,240.5 227.3,243.0 227.7,245.0 228.1,246.5 228.5,247.3 228.9,247.5 229.3,247.1 229.7,246.0 230.1,244.3 230.5,242.2 230.9,239.6 231.3,236.8 231.7,233.8 232.1,230.8 232.5,228.0 232.9,225.4 233.3,223.2 233.7,221.5 234.1,220.2 234.5,219.6 234.8,219.5 235.2,220.1 235.6,221.2 236.0,222.8 236.4,224.8 236.8,227.1 237.2,229.6 237.6,232.2 238.0,234.8 238.4,237.2 238.8,239.4 239.2,241.2 239.6,242.7 240.0,243.6 240.4,244.0 240.8,244.0 241.2,243.4 241.6,242.4 242.0,241.0 242.4,239.3 242.8,237.3 243.2,235.2 243.6,233.1 244.0,231.0 244.4,229.0 244.8,227.3 245.2,225.9 245.6,224.9 246.0,224.2 246.4,223.9 246.7,224.0 247.1,224.6 247.5,225.4 247.9,226.6 248.3,228.0 248.7,229.5 249.1,231.2 249.5,232.8 249.9,234.4 250.3,235.8 250.7,237.1 251.1,238.1 251.5,238.8 251.9,239.3 252.3,239.4 252.7,239.2 253.1,238.8 253.5,238.1 253.9,237.2 254.3,236.2 254.7,235.0 255.1,233.9 255.5,232.7 255.9,231.6 256.3,230.6 256.7,229.7 257.1,229.1 257.5,228.6 257.9,228.3 258.2,228.3"/><polyline clip-path="url(#c44)" fill="none" stroke="#2a5c92" stroke-width="1.6" stroke-linejoin="round" points="269.4,217.6 269.8,217.7 270.3,218.0 270.7,218.5 271.2,219.3 271.6,220.2 272.0,221.3 272.5,222.5 272.9,223.9 273.4,225.4 273.8,227.0 274.3,228.7 274.7,230.4 275.1,232.1 275.6,233.9 276.0,235.6 276.5,237.2 276.9,238.8 277.3,240.2 277.8,241.5 278.2,242.7 278.7,243.7 279.1,244.6 279.5,245.3 280.0,245.8 280.4,246.1 280.9,246.2 281.3,246.1 281.8,245.8 282.2,245.4 282.6,244.8 283.1,244.0 283.5,243.1 284.0,242.1 284.4,240.9 284.8,239.7 285.3,238.4 285.7,237.1 286.2,235.7 286.6,234.4 287.0,233.0 287.5,231.7 287.9,230.5 288.4,229.3 288.8,228.2 289.3,227.2 289.7,226.3 290.1,225.6 290.6,225.0 291.0,224.5 291.5,224.1 291.9,223.9 292.3,223.8 292.8,223.9 293.2,224.0 293.7,224.3 294.1,224.7 294.6,225.2 295.0,225.8 295.4,226.5 295.9,227.2 296.3,228.0 296.8,228.8 297.2,229.6 297.6,230.4 298.1,231.3 298.5,232.1 299.0,232.9 299.4,233.6 299.8,234.3 300.3,234.9 300.7,235.5 301.2,236.0 301.6,236.5 302.1,236.8 302.5,237.1 302.9,237.3 303.4,237.4 303.8,237.5 304.3,237.4 304.7,237.4"/><polyline clip-path="url(#c45)" fill="none" stroke="#2a5c92" stroke-width="1.6" stroke-linejoin="round" points="315.9,217.6 316.3,217.6 316.7,217.7 317.2,217.8 317.6,217.9 318.1,218.1 318.5,218.4 318.9,218.6 319.4,219.0 319.8,219.3 320.3,219.7 320.7,220.2 321.1,220.7 321.6,221.2 322.0,221.7 322.5,222.3 322.9,222.8 323.4,223.4 323.8,224.1 324.2,224.7 324.7,225.4 325.1,226.1 325.6,226.7 326.0,227.4 326.4,228.1 326.9,228.8 327.3,229.5 327.8,230.2 328.2,230.9 328.6,231.6 329.1,232.2 329.5,232.9 330.0,233.5 330.4,234.2 330.9,234.8 331.3,235.3 331.7,235.9 332.2,236.4 332.6,236.9 333.1,237.4 333.5,237.9 333.9,238.3 334.4,238.7 334.8,239.0 335.3,239.4 335.7,239.7 336.1,239.9 336.6,240.2 337.0,240.4 337.5,240.5 337.9,240.7 338.4,240.8 338.8,240.9 339.2,240.9 339.7,240.9 340.1,240.9 340.6,240.9 341.0,240.8 341.4,240.7 341.9,240.6 342.3,240.5 342.8,240.4 343.2,240.2 343.6,240.0 344.1,239.8 344.5,239.6 345.0,239.3 345.4,239.1 345.9,238.8 346.3,238.6 346.7,238.3 347.2,238.0 347.6,237.8 348.1,237.5 348.5,237.2 348.9,236.9 349.4,236.6 349.8,236.4 350.3,236.1 350.7,235.8 351.2,235.5"/><polyline clip-path="url(#c46)" fill="none" stroke="#2a5c92" stroke-width="1.6" stroke-linejoin="round" points="362.3,217.6 362.7,217.6 363.2,217.6 363.6,217.6 364.1,217.6 364.5,217.7 364.9,217.7 365.4,217.7 365.8,217.8 366.3,217.9 366.7,217.9 367.2,218.0 367.6,218.1 368.0,218.2 368.5,218.3 368.9,218.4 369.4,218.5 369.8,218.6 370.2,218.7 370.7,218.9 371.1,219.0 371.6,219.2 372.0,219.3 372.4,219.5 372.9,219.6 373.3,219.8 373.8,219.9 374.2,220.1 374.7,220.3 375.1,220.5 375.5,220.6 376.0,220.8 376.4,221.0 376.9,221.2 377.3,221.4 377.7,221.6 378.2,221.8 378.6,222.0 379.1,222.2 379.5,222.4 380.0,222.6 380.4,222.8 380.8,223.0 381.3,223.2 381.7,223.4 382.2,223.7 382.6,223.9 383.0,224.1 383.5,224.3 383.9,224.5 384.4,224.7 384.8,224.9 385.2,225.1 385.7,225.3 386.1,225.5 386.6,225.7 387.0,225.9 387.5,226.1 387.9,226.3 388.3,226.5 388.8,226.7 389.2,226.9 389.7,227.1 390.1,227.3 390.5,227.4 391.0,227.6 391.4,227.8 391.9,228.0 392.3,228.1 392.7,228.3 393.2,228.5 393.6,228.6 394.1,228.8 394.5,228.9 395.0,229.1 395.4,229.2 395.8,229.4 396.3,229.5 396.7,229.7 397.2,229.8 397.6,229.9"/><polyline clip-path="url(#c50)" fill="none" stroke="#2a5c92" stroke-width="1.6" stroke-linejoin="round" points="83.6,260.1 83.7,260.5 83.8,261.7 83.9,263.7 84.0,266.3 84.2,269.5 84.3,272.9 84.4,276.4 84.5,280.0 84.6,283.2 84.7,286.0 84.8,288.3 84.9,289.8 85.0,290.5 85.1,290.4 85.3,289.5 85.4,287.8 85.5,285.4 85.6,282.5 85.7,279.2 85.8,275.6 85.9,272.1 86.0,268.7 86.1,265.7 86.2,263.2 86.4,261.4 86.5,260.4 86.6,260.2 86.7,260.8 86.8,262.2 86.9,264.3 87.0,267.1 87.1,270.2 87.2,273.7 87.4,277.3 87.5,280.7 87.6,283.8 87.7,286.5 87.8,288.6 87.9,289.9 88.0,290.5 88.1,290.2 88.2,289.1 88.3,287.2 88.5,284.7 88.6,281.7 88.7,278.3 88.8,274.8 88.9,271.3 89.0,268.1 89.1,265.2 89.2,262.9 89.3,261.3 89.4,260.4 89.6,260.4 89.7,261.2 89.8,262.8 89.9,265.0 90.0,267.9 90.1,271.1 90.2,274.5 90.3,278.0 90.4,281.4 90.5,284.4 90.7,286.9 90.8,288.8 90.9,289.9 91.0,290.2 91.1,289.8 91.2,288.5 91.3,286.5 91.4,283.9 91.5,280.8 91.7,277.5 91.8,274.0 91.9,270.6 92.0,267.5 92.1,264.8 92.2,262.7 92.3,261.3 92.4,260.7 92.5,260.8 92.6,261.8 92.8,263.5 92.9,265.8 93.0,268.7 93.1,271.9 93.2,275.3 93.3,278.7 93.4,282.0 93.5,284.8 93.6,287.1 93.7,288.8 93.9,289.7 94.0,289.9 94.1,289.2 94.2,287.8 94.3,285.7 94.4,283.1 94.5,280.0 94.6,276.7 94.7,273.3 94.9,270.0 95.0,267.1 95.1,264.6 95.2,262.7 95.3,261.4 95.4,261.0 95.5,261.4 95.6,262.5 95.7,264.3 95.8,266.7 96.0,269.6 96.1,272.8 96.2,276.1 96.3,279.4 96.4,282.4 96.5,285.1 96.6,287.2 96.7,288.7 96.8,289.4 96.9,289.3 97.1,288.5 97.2,287.0 97.3,284.8 97.4,282.2 97.5,279.1 97.6,275.9 97.7,272.6 97.8,269.5 97.9,266.7 98.1,264.4 98.2,262.7 98.3,261.7 98.4,261.5 98.5,262.0 98.6,263.3 98.7,265.2 98.8,267.6 98.9,270.5 99.0,273.6 99.2,276.8 99.3,279.9 99.4,282.8 99.5,285.3 99.6,287.1 99.7,288.4 99.8,288.9 99.9,288.7 100.0,287.8 100.1,286.1 100.3,283.9 100.4,281.2 100.5,278.3 100.6,275.1 100.7,272.0 100.8,269.1 100.9,266.5 101.0,264.4 101.1,263.0 101.2,262.2 101.4,262.1 101.5,262.8 101.6,264.1 101.7,266.1 101.8,268.5 101.9,271.4 102.0,274.4 102.1,277.5 102.2,280.4 102.4,283.1 102.5,285.3 102.6,287.0 102.7,288.0 102.8,288.3 102.9,288.0 103.0,286.9 103.1,285.2 103.2,283.0 103.3,280.3 103.5,277.4 103.6,274.4 103.7,271.5 103.8,268.8 103.9,266.4 104.0,264.6 104.1,263.3 104.2,262.7 104.3,262.8 104.4,263.6 104.6,265.1 104.7,267.0 104.8,269.5 104.9,272.2 105.0,275.1 105.1,278.0 105.2,280.8 105.3,283.2 105.4,285.2 105.6,286.6 105.7,287.5 105.8,287.6 105.9,287.1 106.0,286.0 106.1,284.2 106.2,282.0 106.3,279.5 106.4,276.7 106.5,273.8 106.7,271.1 106.8,268.6 106.9,266.5 107.0,264.9 107.1,263.8 107.2,263.4 107.3,263.7 107.4,264.5 107.5,266.0 107.6,268.0 107.8,270.4 107.9,273.0 108.0,275.8 108.1,278.5 108.2,281.0 108.3,283.2 108.4,285.0 108.5,286.2 108.6,286.8 108.8,286.8 108.9,286.2 109.0,285.0 109.1,283.3 109.2,281.1 109.3,278.6 109.4,276.0 109.5,273.3 109.6,270.8 109.7,268.5 109.9,266.6 110.0,265.2 110.1,264.4 110.2,264.2 110.3,264.5 110.4,265.5 110.5,267.0 110.6,269.0 110.7,271.2 110.8,273.7 111.0,276.3 111.1,278.8 111.2,281.1 111.3,283.1 111.4,284.7 111.5,285.7 111.6,286.1 111.7,286.0 111.8,285.3 112.0,284.0 112.1,282.3 112.2,280.2 112.3,277.8 112.4,275.4 112.5,272.9 112.6,270.6 112.7,268.6 112.8,266.9 112.9,265.7 113.1,265.1 113.2,265.0 113.3,265.5 113.4,266.5 113.5,268.0 113.6,269.9 113.7,272.1 113.8,274.4 113.9,276.8 114.0,279.1 114.2,281.2 114.3,282.9 114.4,284.2 114.5,285.1 114.6,285.4 114.7,285.1 114.8,284.3 114.9,283.0 115.0,281.4 115.1,279.4 115.3,277.1 115.4,274.8 115.5,272.6 115.6,270.5 115.7,268.7 115.8,267.3 115.9,266.3 116.0,265.8 116.1,265.8 116.3,266.4 116.4,267.4 116.5,268.9 116.6,270.7 116.7,272.8 116.8,275.0 116.9,277.2 117.0,279.3 117.1,281.1 117.2,282.6 117.4,283.7 117.5,284.4 117.6,284.5 117.7,284.2 117.8,283.4 117.9,282.1 118.0,280.5 118.1,278.6 118.2,276.5 118.3,274.4 118.5,272.4 118.6,270.5 118.7,268.9 118.8,267.7 118.9,266.9"/><polyline clip-path="url(#c51)" fill="none" stroke="#2a5c92" stroke-width="1.6" stroke-linejoin="round" points="130.1,260.1 130.2,260.4 130.4,261.4 130.6,263.0 130.8,265.2 131.0,267.8 131.2,270.7 131.4,273.8 131.6,277.0 131.8,280.1 132.0,283.0 132.2,285.6 132.4,287.7 132.6,289.3 132.8,290.2 133.0,290.5 133.2,290.2 133.4,289.2 133.6,287.6 133.8,285.4 134.0,282.8 134.2,279.9 134.4,276.8 134.6,273.6 134.8,270.6 135.0,267.7 135.2,265.2 135.4,263.1 135.6,261.5 135.8,260.6 136.0,260.3 136.2,260.7 136.4,261.7 136.6,263.3 136.8,265.5 137.0,268.0 137.1,270.9 137.3,274.0 137.5,277.1 137.7,280.1 137.9,283.0 138.1,285.4 138.3,287.5 138.5,288.9 138.7,289.8 138.9,290.1 139.1,289.7 139.3,288.7 139.5,287.1 139.7,285.0 139.9,282.4 140.1,279.6 140.3,276.6 140.5,273.6 140.7,270.6 140.9,267.9 141.1,265.5 141.3,263.5 141.5,262.1 141.7,261.2 141.9,261.0 142.1,261.4 142.3,262.4 142.5,264.0 142.7,266.1 142.9,268.5 143.1,271.3 143.3,274.2 143.5,277.2 143.7,280.0 143.9,282.7 144.1,285.0 144.2,286.9 144.4,288.2 144.6,289.0 144.8,289.2 145.0,288.8 145.2,287.8 145.4,286.2 145.6,284.2 145.8,281.8 146.0,279.2 146.2,276.4 146.4,273.5 146.6,270.8 146.8,268.3 147.0,266.1 147.2,264.3 147.4,263.0 147.6,262.2 147.8,262.1 148.0,262.5 148.2,263.5 148.4,265.0 148.6,266.9 148.8,269.2 149.0,271.7 149.2,274.4 149.4,277.2 149.6,279.8 149.8,282.2 150.0,284.3 150.2,285.9 150.4,287.2 150.6,287.8 150.8,288.0 151.0,287.6 151.2,286.6 151.3,285.2 151.5,283.3 151.7,281.1 151.9,278.7 152.1,276.1 152.3,273.6 152.5,271.1 152.7,268.8 152.9,266.9 153.1,265.3 153.3,264.2 153.5,263.5 153.7,263.4 153.9,263.8 154.1,264.8 154.3,266.1 154.5,267.9 154.7,270.0 154.9,272.3 155.1,274.7 155.3,277.1 155.5,279.4 155.7,281.5 155.9,283.4 156.1,284.8 156.3,285.9 156.5,286.4 156.7,286.5 156.9,286.1 157.1,285.2 157.3,283.9 157.5,282.3 157.7,280.3 157.9,278.2 158.1,275.9 158.3,273.7 158.4,271.5 158.6,269.6 158.8,267.9 159.0,266.5 159.2,265.5 159.4,265.0 159.6,265.0 159.8,265.4 160.0,266.2 160.2,267.4 160.4,269.0 160.6,270.8 160.8,272.8 161.0,274.9 161.2,276.9 161.4,278.9 161.6,280.8 161.8,282.3 162.0,283.6 162.2,284.4 162.4,284.9 162.6,284.9 162.8,284.5 163.0,283.8 163.2,282.6 163.4,281.2 163.6,279.5 163.8,277.7 164.0,275.8 164.2,273.8 164.4,272.0 164.6,270.3 164.8,268.9 165.0,267.8 165.2,267.0 165.4,266.6"/><polyline clip-path="url(#c52)" fill="none" stroke="#2a5c92" stroke-width="1.6" stroke-linejoin="round" points="176.5,260.1 176.8,260.4 177.1,261.4 177.4,263.0 177.7,265.2 178.0,267.8 178.3,270.7 178.6,273.9 178.9,277.1 179.2,280.2 179.5,283.1 179.8,285.6 180.1,287.7 180.4,289.3 180.7,290.2 180.9,290.5 181.2,290.1 181.5,289.0 181.8,287.4 182.1,285.2 182.4,282.6 182.7,279.7 183.0,276.6 183.3,273.5 183.6,270.4 183.9,267.6 184.2,265.1 184.5,263.1 184.8,261.7 185.1,260.8 185.4,260.6 185.7,261.1 186.0,262.1 186.3,263.8 186.6,265.9 186.9,268.5 187.2,271.3 187.5,274.3 187.8,277.4 188.1,280.3 188.4,283.0 188.7,285.3 189.0,287.2 189.3,288.5 189.6,289.3 189.8,289.4 190.1,289.0 190.4,287.9 190.7,286.3 191.0,284.2 191.3,281.7 191.6,279.0 191.9,276.1 192.2,273.2 192.5,270.5 192.8,268.0 193.1,265.8 193.4,264.1 193.7,262.8 194.0,262.2 194.3,262.1 194.6,262.6 194.9,263.7 195.2,265.2 195.5,267.2 195.8,269.6 196.1,272.1 196.4,274.8 196.7,277.5 197.0,280.0 197.3,282.4 197.6,284.4 197.9,285.9 198.2,287.0 198.5,287.6 198.7,287.6 199.0,287.1 199.3,286.0 199.6,284.6 199.9,282.7 200.2,280.5 200.5,278.1 200.8,275.7 201.1,273.2 201.4,270.9 201.7,268.8 202.0,267.0 202.3,265.6 202.6,264.7 202.9,264.2 203.2,264.2 203.5,264.7 203.8,265.7 204.1,267.1 204.4,268.8 204.7,270.8 205.0,273.0 205.3,275.2 205.6,277.4 205.9,279.5 206.2,281.4 206.5,282.9 206.8,284.2 207.1,285.0 207.4,285.3 207.6,285.3 207.9,284.8 208.2,283.9 208.5,282.6 208.8,281.0 209.1,279.3 209.4,277.3 209.7,275.3 210.0,273.4 210.3,271.6 210.6,269.9 210.9,268.6 211.2,267.5 211.5,266.9 211.8,266.6"/><polyline clip-path="url(#c53)" fill="none" stroke="#2a5c92" stroke-width="1.6" stroke-linejoin="round" points="223.0,260.1 223.3,260.4 223.7,261.4 224.1,263.1 224.5,265.2 224.9,267.8 225.3,270.8 225.7,273.9 226.1,277.1 226.5,280.2 226.9,283.1 227.3,285.7 227.7,287.7 228.1,289.2 228.5,290.1 228.9,290.4 229.3,289.9 229.7,288.8 230.1,287.2 230.5,285.0 230.9,282.4 231.3,279.5 231.7,276.4 232.1,273.3 232.5,270.3 232.9,267.6 233.3,265.2 233.7,263.3 234.1,261.9 234.5,261.2 234.8,261.0 235.2,261.5 235.6,262.7 236.0,264.3 236.4,266.5 236.8,269.0 237.2,271.8 237.6,274.7 238.0,277.6 238.4,280.4 238.8,282.9 239.2,285.1 239.6,286.8 240.0,287.9 240.4,288.6 240.8,288.6 241.2,288.0 241.6,286.9 242.0,285.3 242.4,283.3 242.8,280.9 243.2,278.3 243.6,275.7 244.0,273.0 244.4,270.5 244.8,268.3 245.2,266.4 245.6,264.9 246.0,263.9 246.4,263.4 246.7,263.5 247.1,264.1 247.5,265.2 247.9,266.7 248.3,268.5 248.7,270.7 249.1,273.0 249.5,275.3 249.9,277.7 250.3,279.8 250.7,281.8 251.1,283.4 251.5,284.6 251.9,285.4 252.3,285.8 252.7,285.6 253.1,285.1 253.5,284.1 253.9,282.7 254.3,281.0 254.7,279.2 255.1,277.2 255.5,275.1 255.9,273.2 256.3,271.3 256.7,269.7 257.1,268.4 257.5,267.4 257.9,266.8 258.2,266.5"/><polyline clip-path="url(#c54)" fill="none" stroke="#2a5c92" stroke-width="1.6" stroke-linejoin="round" points="269.4,260.1 269.8,260.2 270.3,260.5 270.7,261.0 271.2,261.8 271.6,262.7 272.0,263.8 272.5,265.0 272.9,266.4 273.4,267.9 273.8,269.5 274.3,271.2 274.7,272.9 275.1,274.7 275.6,276.4 276.0,278.2 276.5,279.9 276.9,281.5 277.3,283.0 277.8,284.4 278.2,285.7 278.7,286.8 279.1,287.7 279.5,288.5 280.0,289.1 280.4,289.5 280.9,289.7 281.3,289.7 281.8,289.5 282.2,289.1 282.6,288.5 283.1,287.7 283.5,286.8 284.0,285.7 284.4,284.5 284.8,283.2 285.3,281.7 285.7,280.3 286.2,278.7 286.6,277.2 287.0,275.6 287.5,274.0 287.9,272.5 288.4,271.1 288.8,269.7 289.3,268.4 289.7,267.3 290.1,266.3 290.6,265.4 291.0,264.6 291.5,264.1 291.9,263.7 292.3,263.4 292.8,263.4 293.2,263.5 293.7,263.7 294.1,264.2 294.6,264.7 295.0,265.4 295.4,266.3 295.9,267.2 296.3,268.2 296.8,269.3 297.2,270.5 297.6,271.7 298.1,273.0 298.5,274.2 299.0,275.4 299.4,276.6 299.8,277.8 300.3,278.9 300.7,279.9 301.2,280.8 301.6,281.7 302.1,282.4 302.5,283.0 302.9,283.5 303.4,283.9 303.8,284.1 304.3,284.2 304.7,284.2"/><polyline clip-path="url(#c55)" fill="none" stroke="#2a5c92" stroke-width="1.6" stroke-linejoin="round" points="315.9,260.1 316.3,260.1 316.7,260.2 317.2,260.3 317.6,260.4 318.1,260.6 318.5,260.9 318.9,261.1 319.4,261.4 319.8,261.8 320.3,262.1 320.7,262.6 321.1,263.0 321.6,263.5 322.0,264.0 322.5,264.5 322.9,265.1 323.4,265.7 323.8,266.3 324.2,267.0 324.7,267.6 325.1,268.3 325.6,269.0 326.0,269.7 326.4,270.4 326.9,271.1 327.3,271.8 327.8,272.6 328.2,273.3 328.6,274.0 329.1,274.7 329.5,275.5 330.0,276.2 330.4,276.9 330.9,277.6 331.3,278.2 331.7,278.9 332.2,279.5 332.6,280.1 333.1,280.7 333.5,281.3 333.9,281.9 334.4,282.4 334.8,282.9 335.3,283.4 335.7,283.8 336.1,284.2 336.6,284.6 337.0,284.9 337.5,285.3 337.9,285.5 338.4,285.8 338.8,286.0 339.2,286.2 339.7,286.3 340.1,286.5 340.6,286.5 341.0,286.6 341.4,286.6 341.9,286.6 342.3,286.5 342.8,286.4 343.2,286.3 343.6,286.2 344.1,286.0 344.5,285.8 345.0,285.6 345.4,285.4 345.9,285.1 346.3,284.8 346.7,284.5 347.2,284.2 347.6,283.8 348.1,283.5 348.5,283.1 348.9,282.7 349.4,282.3 349.8,281.9 350.3,281.5 350.7,281.1 351.2,280.6"/><polyline clip-path="url(#c56)" fill="none" stroke="#2a5c92" stroke-width="1.6" stroke-linejoin="round" points="362.3,260.1 362.7,260.1 363.2,260.1 363.6,260.1 364.1,260.1 364.5,260.2 364.9,260.2 365.4,260.2 365.8,260.2 366.3,260.3 366.7,260.3 367.2,260.4 367.6,260.4 368.0,260.5 368.5,260.5 368.9,260.6 369.4,260.7 369.8,260.7 370.2,260.8 370.7,260.9 371.1,261.0 371.6,261.1 372.0,261.1 372.4,261.2 372.9,261.3 373.3,261.4 373.8,261.5 374.2,261.6 374.7,261.8 375.1,261.9 375.5,262.0 376.0,262.1 376.4,262.2 376.9,262.4 377.3,262.5 377.7,262.6 378.2,262.8 378.6,262.9 379.1,263.0 379.5,263.2 380.0,263.3 380.4,263.5 380.8,263.6 381.3,263.8 381.7,263.9 382.2,264.1 382.6,264.2 383.0,264.4 383.5,264.5 383.9,264.7 384.4,264.8 384.8,265.0 385.2,265.2 385.7,265.3 386.1,265.5 386.6,265.7 387.0,265.8 387.5,266.0 387.9,266.2 388.3,266.3 388.8,266.5 389.2,266.7 389.7,266.8 390.1,267.0 390.5,267.2 391.0,267.3 391.4,267.5 391.9,267.6 392.3,267.8 392.7,268.0 393.2,268.1 393.6,268.3 394.1,268.5 394.5,268.6 395.0,268.8 395.4,268.9 395.8,269.1 396.3,269.3 396.7,269.4 397.2,269.6 397.6,269.7"/><text x="81.60" y="50.00" text-anchor="end" font-family="Liberation Sans, sans-serif" font-size="9.3" fill="#222" stroke="#222" stroke-width="0.3">1</text><text x="82.40" y="65.85" text-anchor="end" font-family="Liberation Sans, sans-serif" font-size="9.3" fill="#222" stroke="#222" stroke-width="0.3">0</text><text x="81.90" y="80.70" text-anchor="end" font-family="Liberation Sans, sans-serif" font-size="9.3" fill="#222" stroke="#222" stroke-width="0.3">−1</text><text x="81.60" y="92.54" text-anchor="end" font-family="Liberation Sans, sans-serif" font-size="9.3" fill="#222" stroke="#222" stroke-width="0.3">1</text><text x="82.40" y="108.39" text-anchor="end" font-family="Liberation Sans, sans-serif" font-size="9.3" fill="#222" stroke="#222" stroke-width="0.3">0</text><text x="81.90" y="123.24" text-anchor="end" font-family="Liberation Sans, sans-serif" font-size="9.3" fill="#222" stroke="#222" stroke-width="0.3">−1</text><text x="81.60" y="135.08" text-anchor="end" font-family="Liberation Sans, sans-serif" font-size="9.3" fill="#222" stroke="#222" stroke-width="0.3">1</text><text x="82.40" y="150.93" text-anchor="end" font-family="Liberation Sans, sans-serif" font-size="9.3" fill="#222" stroke="#222" stroke-width="0.3">0</text><text x="81.90" y="165.78" text-anchor="end" font-family="Liberation Sans, sans-serif" font-size="9.3" fill="#222" stroke="#222" stroke-width="0.3">−1</text><text x="81.60" y="177.62" text-anchor="end" font-family="Liberation Sans, sans-serif" font-size="9.3" fill="#222" stroke="#222" stroke-width="0.3">1</text><text x="82.40" y="193.47" text-anchor="end" font-family="Liberation Sans, sans-serif" font-size="9.3" fill="#222" stroke="#222" stroke-width="0.3">0</text><text x="81.90" y="208.32" text-anchor="end" font-family="Liberation Sans, sans-serif" font-size="9.3" fill="#222" stroke="#222" stroke-width="0.3">−1</text><text x="81.60" y="220.16" text-anchor="end" font-family="Liberation Sans, sans-serif" font-size="9.3" fill="#222" stroke="#222" stroke-width="0.3">1</text><text x="82.40" y="236.01" text-anchor="end" font-family="Liberation Sans, sans-serif" font-size="9.3" fill="#222" stroke="#222" stroke-width="0.3">0</text><text x="81.90" y="250.86" text-anchor="end" font-family="Liberation Sans, sans-serif" font-size="9.3" fill="#222" stroke="#222" stroke-width="0.3">−1</text><text x="81.60" y="262.70" text-anchor="end" font-family="Liberation Sans, sans-serif" font-size="9.3" fill="#222" stroke="#222" stroke-width="0.3">1</text><text x="82.40" y="278.55" text-anchor="end" font-family="Liberation Sans, sans-serif" font-size="9.3" fill="#222" stroke="#222" stroke-width="0.3">0</text><text x="81.90" y="293.40" text-anchor="end" font-family="Liberation Sans, sans-serif" font-size="9.3" fill="#222" stroke="#222" stroke-width="0.3">−1</text><text x="83.90" y="298.90" text-anchor="middle" font-family="Liberation Sans, sans-serif" font-size="9.3" fill="#222" stroke="#222" stroke-width="0.3">0</text><text x="109.11" y="298.90" text-anchor="middle" font-family="Liberation Sans, sans-serif" font-size="9.3" fill="#222" stroke="#222" stroke-width="0.3">50</text><text x="130.35" y="298.90" text-anchor="middle" font-family="Liberation Sans, sans-serif" font-size="9.3" fill="#222" stroke="#222" stroke-width="0.3">0</text><text x="155.56" y="298.90" text-anchor="middle" font-family="Liberation Sans, sans-serif" font-size="9.3" fill="#222" stroke="#222" stroke-width="0.3">50</text><text x="176.80" y="298.90" text-anchor="middle" font-family="Liberation Sans, sans-serif" font-size="9.3" fill="#222" stroke="#222" stroke-width="0.3">0</text><text x="202.01" y="298.90" text-anchor="middle" font-family="Liberation Sans, sans-serif" font-size="9.3" fill="#222" stroke="#222" stroke-width="0.3">50</text><text x="223.25" y="298.90" text-anchor="middle" font-family="Liberation Sans, sans-serif" font-size="9.3" fill="#222" stroke="#222" stroke-width="0.3">0</text><text x="248.46" y="298.90" text-anchor="middle" font-family="Liberation Sans, sans-serif" font-size="9.3" fill="#222" stroke="#222" stroke-width="0.3">50</text><text x="269.70" y="298.90" text-anchor="middle" font-family="Liberation Sans, sans-serif" font-size="9.3" fill="#222" stroke="#222" stroke-width="0.3">0</text><text x="294.91" y="298.90" text-anchor="middle" font-family="Liberation Sans, sans-serif" font-size="9.3" fill="#222" stroke="#222" stroke-width="0.3">50</text><text x="316.15" y="298.90" text-anchor="middle" font-family="Liberation Sans, sans-serif" font-size="9.3" fill="#222" stroke="#222" stroke-width="0.3">0</text><text x="341.36" y="298.90" text-anchor="middle" font-family="Liberation Sans, sans-serif" font-size="9.3" fill="#222" stroke="#222" stroke-width="0.3">50</text><text x="362.60" y="298.90" text-anchor="middle" font-family="Liberation Sans, sans-serif" font-size="9.3" fill="#222" stroke="#222" stroke-width="0.3">0</text><text x="387.81" y="298.90" text-anchor="middle" font-family="Liberation Sans, sans-serif" font-size="9.3" fill="#222" stroke="#222" stroke-width="0.3">50</text><line x1="407.7" y1="40" x2="407.7" y2="313.3" stroke="#333" stroke-width="1"/><path d="M407.7,35.0 L405.2,39.9 Q407.7,38.6 410.2,39.9 Z" fill="#333"/><line x1="78" y1="307.1" x2="412.3" y2="307.1" stroke="#333" stroke-width="1"/><path d="M72.9,307.1 L77.8,304.6 Q76.5,307.1 77.8,309.6 Z" fill="#333"/><text x="0" y="18.6" font-family="Liberation Serif, serif" font-size="21.8" textLength="25.9" lengthAdjust="spacingAndGlyphs" fill="#111">(a)</text><text x="460.1" y="18.9" font-family="Liberation Serif, serif" font-size="21.8" textLength="27.1" lengthAdjust="spacingAndGlyphs" fill="#111">(b)</text><g font-family="Liberation Serif, serif" fill="#222"><path d="M337.4,15.9 L339.2,14.8 L341.8,21.1 L348.3,7.2 L355.8,7.2" fill="none" stroke="#222" stroke-width="0.85" stroke-linejoin="miter"/><text x="347.8" y="18.9" font-size="14.5" font-style="italic">v</text><path d="M369.60,13.20 C367.40,13.20 365.64,18.60 363.62,18.60 C361.50,18.60 360.80,17.79 360.80,15.90 C360.80,14.01 361.50,13.20 363.62,13.20 C365.64,13.20 367.40,18.60 369.60,18.60" fill="none" stroke="#222" stroke-width="0.85"/><line x1="376.6" y1="15.4" x2="445.8" y2="15.4" stroke="#222" stroke-width="0.9"/><text x="411.1" y="9.6" font-size="14.5" text-anchor="middle">1</text><text x="376.6" y="29.1" font-size="14" textLength="68.6" lengthAdjust="spacingAndGlyphs">lengthscale</text><text x="-0.6" y="310.9" font-size="14.5" font-style="italic">μ</text><path d="M22.40,304.80 C19.90,304.80 17.90,310.80 15.60,310.80 C13.20,310.80 12.40,309.90 12.40,307.80 C12.40,305.70 13.20,304.80 15.60,304.80 C17.90,304.80 19.90,310.80 22.40,310.80" fill="none" stroke="#222" stroke-width="0.85"/><line x1="29.1" y1="307.2" x2="69.5" y2="307.2" stroke="#222" stroke-width="0.9"/><text x="49.6" y="301.9" font-size="14.5" text-anchor="middle">1</text><text x="29.6" y="321.0" font-size="14" textLength="39.2" lengthAdjust="spacingAndGlyphs">period</text></g><clipPath id="cb"><rect x="514.4" y="30.8" width="258.80000000000007" height="266.8"/></clipPath><g clip-path="url(#cb)"><polyline fill="none" stroke="#2a33a0" stroke-width="3.9" stroke-linejoin="round" points="514.40,42.80 514.77,42.84 515.13,42.97 515.50,43.18 515.86,43.47 516.23,43.84 516.59,44.30 516.96,44.84 517.32,45.46 517.69,46.16 518.05,46.95 518.42,47.81 518.78,48.76 519.15,49.78 519.51,50.88 519.88,52.06 520.24,53.32 520.61,54.65 520.98,56.06 521.34,57.54 521.71,59.10 522.07,60.73 522.44,62.43 522.80,64.19 523.17,66.03 523.53,67.93 523.90,69.90 524.26,71.94 524.63,74.04 524.99,76.19 525.36,78.41 525.72,80.69 526.09,83.02 526.45,85.41 526.82,87.86 527.19,90.35 527.55,92.90 527.92,95.49 528.28,98.13 528.65,100.82 529.01,103.54 529.38,106.31 529.74,109.12 530.11,111.97 530.47,114.85 530.84,117.76 531.20,120.70 531.57,123.68 531.93,126.68 532.30,129.70 532.66,132.75 533.03,135.82 533.40,138.90 533.76,142.01 534.13,145.12 534.49,148.25 534.86,151.39 535.22,154.54 535.59,157.69 535.95,160.84 536.32,164.00 536.68,167.16 537.05,170.31 537.41,173.45 537.78,176.59 538.14,179.72 538.51,182.84 538.88,185.94 539.24,189.03 539.61,192.09 539.97,195.14 540.34,198.17 540.70,201.17 541.07,204.14 541.43,207.08 541.80,210.00 542.16,212.88 542.53,215.72 542.89,218.53 543.26,221.30 543.62,224.03 543.99,226.71 544.35,229.35 544.72,231.95 545.09,234.50 545.45,236.99 545.82,239.44 546.18,241.83 546.55,244.17 546.91,246.45 547.28,248.68 547.64,250.84 548.01,252.94 548.37,254.98 548.74,256.96 549.10,258.87 549.47,260.72 549.83,262.50 550.20,264.21 550.56,265.85 550.93,267.41 551.30,268.91 551.66,270.33 552.03,271.68 552.39,272.96 552.76,274.15 553.12,275.28 553.49,276.32 553.85,277.29 554.22,278.17 554.58,278.98 554.95,279.71 555.31,280.36 555.68,280.93 556.04,281.42 556.41,281.82 556.77,282.15 557.14,282.39 557.51,282.55 557.87,282.63 558.24,282.63 558.60,282.55 558.97,282.39 559.33,282.14 559.70,281.81 560.06,281.40 560.43,280.92 560.79,280.35 561.16,279.70 561.52,278.97 561.89,278.17 562.25,277.28 562.62,276.32 562.98,275.28 563.35,274.17 563.72,272.98 564.08,271.72 564.45,270.38 564.81,268.98 565.18,267.50 565.54,265.95 565.91,264.33 566.27,262.65 566.64,260.89 567.00,259.08 567.37,257.20 567.73,255.25 568.10,253.25 568.46,251.18 568.83,249.06 569.19,246.88 569.56,244.65 569.93,242.36 570.29,240.02 570.66,237.63 571.02,235.19 571.39,232.71 571.75,230.18 572.12,227.61 572.48,224.99 572.85,222.34 573.21,219.65 573.58,216.92 573.94,214.16 574.31,211.36 574.67,208.54 575.04,205.69 575.41,202.81 575.77,199.91 576.14,196.99 576.50,194.05 576.87,191.09 577.23,188.11 577.60,185.13 577.96,182.13 578.33,179.12 578.69,176.10 579.06,173.08 579.42,170.05 579.79,167.03 580.15,164.00 580.52,160.98 580.88,157.96 581.25,154.95 581.62,151.95 581.98,148.96 582.35,145.99 582.71,143.03 583.08,140.09 583.44,137.17 583.81,134.27 584.17,131.39 584.54,128.54 584.90,125.72 585.27,122.93 585.63,120.17 586.00,117.44 586.36,114.75 586.73,112.09 587.09,109.47 587.46,106.90 587.83,104.36 588.19,101.87 588.56,99.43 588.92,97.03 589.29,94.69 589.65,92.39 590.02,90.14 590.38,87.95 590.75,85.82 591.11,83.74 591.48,81.71 591.84,79.75 592.21,77.85 592.57,76.01 592.94,74.23 593.30,72.52 593.67,70.87 594.04,69.29 594.40,67.77 594.77,66.32 595.13,64.95 595.50,63.64 595.86,62.40 596.23,61.24 596.59,60.14 596.96,59.12 597.32,58.18 597.69,57.30 598.05,56.50 598.42,55.78 598.78,55.13 599.15,54.56 599.51,54.07 599.88,53.65 600.25,53.31 600.61,53.04 600.98,52.85 601.34,52.74 601.71,52.70 602.07,52.74 602.44,52.86 602.80,53.06 603.17,53.33 603.53,53.67 603.90,54.09 604.26,54.59 604.63,55.16 604.99,55.81 605.36,56.52 605.73,57.32 606.09,58.18 606.46,59.11 606.82,60.12 607.19,61.20 607.55,62.34 607.92,63.55 608.28,64.84 608.65,66.18 609.01,67.59 609.38,69.07 609.74,70.61 610.11,72.21 610.47,73.87 610.84,75.60 611.20,77.38 611.57,79.21 611.94,81.10 612.30,83.05 612.67,85.05 613.03,87.10 613.40,89.20 613.76,91.35 614.13,93.54 614.49,95.78 614.86,98.06 615.22,100.39 615.59,102.75 615.95,105.15 616.32,107.59 616.68,110.07 617.05,112.57 617.41,115.11 617.78,117.68 618.15,120.27 618.51,122.89 618.88,125.54 619.24,128.20 619.61,130.89 619.97,133.60 620.34,136.32 620.70,139.05 621.07,141.80 621.43,144.56 621.80,147.33 622.16,150.10 622.53,152.88 622.89,155.66 623.26,158.44 623.62,161.22 623.99,164.00 624.36,166.77 624.72,169.54 625.09,172.30 625.45,175.04 625.82,177.78 626.18,180.50 626.55,183.20 626.91,185.88 627.28,188.55 627.64,191.19 628.01,193.81 628.37,196.41 628.74,198.98 629.10,201.51 629.47,204.02 629.83,206.50 630.20,208.94 630.57,211.34 630.93,213.71 631.30,216.04 631.66,218.33 632.03,220.58 632.39,222.79 632.76,224.95 633.12,227.06 633.49,229.13 633.85,231.15 634.22,233.11 634.58,235.03 634.95,236.89 635.31,238.70 635.68,240.46 636.04,242.16 636.41,243.80 636.78,245.38 637.14,246.91 637.51,248.37 637.87,249.77 638.24,251.11 638.60,252.39 638.97,253.61 639.33,254.76 639.70,255.84 640.06,256.86 640.43,257.82 640.79,258.71 641.16,259.53 641.52,260.28 641.89,260.97 642.25,261.58 642.62,262.13 642.99,262.61 643.35,263.02 643.72,263.36 644.08,263.64 644.45,263.84 644.81,263.98 645.18,264.04 645.54,264.04 645.91,263.96 646.27,263.82 646.64,263.61 647.00,263.34 647.37,262.99 647.73,262.58 648.10,262.10 648.47,261.55 648.83,260.94 649.20,260.26 649.56,259.52 649.93,258.71 650.29,257.84 650.66,256.91 651.02,255.91 651.39,254.85 651.75,253.74 652.12,252.56 652.48,251.33 652.85,250.04 653.21,248.69 653.58,247.28 653.94,245.83 654.31,244.32 654.68,242.75 655.04,241.14 655.41,239.48 655.77,237.77 656.14,236.01 656.50,234.21 656.87,232.36 657.23,230.47 657.60,228.54 657.96,226.57 658.33,224.56 658.69,222.51 659.06,220.43 659.42,218.31 659.79,216.16 660.15,213.98 660.52,211.77 660.89,209.54 661.25,207.27 661.62,204.99 661.98,202.68 662.35,200.35 662.71,198.00 663.08,195.63 663.44,193.24 663.81,190.85 664.17,188.43 664.54,186.01 664.90,183.58 665.27,181.14 665.63,178.70 666.00,176.25 666.36,173.80 666.73,171.34 667.10,168.89 667.46,166.44 667.83,164.00 668.19,161.56 668.56,159.13 668.92,156.71 669.29,154.30 669.65,151.90 670.02,149.52 670.38,147.16 670.75,144.81 671.11,142.48 671.48,140.17 671.84,137.88 672.21,135.62 672.57,133.38 672.94,131.17 673.31,128.99 673.67,126.84 674.04,124.72 674.40,122.63 674.77,120.57 675.13,118.55 675.50,116.57 675.86,114.63 676.23,112.72 676.59,110.85 676.96,109.03 677.32,107.25 677.69,105.51 678.05,103.82 678.42,102.17 678.78,100.57 679.15,99.02 679.52,97.52 679.88,96.07 680.25,94.66 680.61,93.31 680.98,92.02 681.34,90.77 681.71,89.58 682.07,88.44 682.44,87.36 682.80,86.34 683.17,85.37 683.53,84.45 683.90,83.60 684.26,82.80 684.63,82.06 685.00,81.38 685.36,80.76 685.73,80.20 686.09,79.69 686.46,79.25 686.82,78.87 687.19,78.54 687.55,78.28 687.92,78.07 688.28,77.93 688.65,77.84 689.01,77.82 689.38,77.85 689.74,77.94 690.11,78.10 690.47,78.31 690.84,78.58 691.21,78.91 691.57,79.29 691.94,79.73 692.30,80.23 692.67,80.79 693.03,81.40 693.40,82.07 693.76,82.79 694.13,83.56 694.49,84.39 694.86,85.27 695.22,86.20 695.59,87.19 695.95,88.22 696.32,89.30 696.68,90.44 697.05,91.61 697.42,92.84 697.78,94.11 698.15,95.42 698.51,96.78 698.88,98.18 699.24,99.62 699.61,101.10 699.97,102.62 700.34,104.18 700.70,105.78 701.07,107.41 701.43,109.07 701.80,110.77 702.16,112.50 702.53,114.26 702.89,116.04 703.26,117.86 703.63,119.70 703.99,121.57 704.36,123.46 704.72,125.37 705.09,127.30 705.45,129.25 705.82,131.22 706.18,133.21 706.55,135.21 706.91,137.23 707.28,139.25 707.64,141.29 708.01,143.34 708.37,145.39 708.74,147.45 709.10,149.52 709.47,151.59 709.84,153.66 710.20,155.73 710.57,157.81 710.93,159.87 711.30,161.94 711.66,164.00 712.03,166.05 712.39,168.10 712.76,170.14 713.12,172.16 713.49,174.17 713.85,176.17 714.22,178.16 714.58,180.13 714.95,182.08 715.31,184.01 715.68,185.92 716.05,187.81 716.41,189.68 716.78,191.52 717.14,193.34 717.51,195.14 717.87,196.90 718.24,198.64 718.60,200.35 718.97,202.02 719.33,203.67 719.70,205.28 720.06,206.86 720.43,208.40 720.79,209.91 721.16,211.38 721.53,212.81 721.89,214.21 722.26,215.56 722.62,216.88 722.99,218.15 723.35,219.38 723.72,220.57 724.08,221.72 724.45,222.82 724.81,223.88 725.18,224.90 725.54,225.86 725.91,226.79 726.27,227.66 726.64,228.49 727.00,229.27 727.37,230.01 727.74,230.69 728.10,231.33 728.47,231.92 728.83,232.46 729.20,232.95 729.56,233.39 729.93,233.78 730.29,234.12 730.66,234.42 731.02,234.66 731.39,234.85 731.75,235.00 732.12,235.09 732.48,235.14 732.85,235.13 733.21,235.08 733.58,234.98 733.95,234.83 734.31,234.63 734.68,234.38 735.04,234.09 735.41,233.74 735.77,233.35 736.14,232.92 736.50,232.44 736.87,231.91 737.23,231.34 737.60,230.72 737.96,230.06 738.33,229.36 738.69,228.61 739.06,227.82 739.42,226.99 739.79,226.12 740.16,225.21 740.52,224.27 740.89,223.28 741.25,222.26 741.62,221.20 741.98,220.10 742.35,218.97 742.71,217.80 743.08,216.61 743.44,215.38 743.81,214.12 744.17,212.83 744.54,211.51 744.90,210.16 745.27,208.79 745.63,207.39 746.00,205.97 746.37,204.52 746.73,203.05 747.10,201.56 747.46,200.05 747.83,198.52 748.19,196.97 748.56,195.40 748.92,193.82 749.29,192.22 749.65,190.61 750.02,188.99 750.38,187.36 750.75,185.72 751.11,184.06 751.48,182.41 751.85,180.74 752.21,179.07 752.58,177.40 752.94,175.72 753.31,174.04 753.67,172.36 754.04,170.68 754.40,169.01 754.77,167.33 755.13,165.66 755.50,164.00 755.86,162.34 756.23,160.69 756.59,159.05 756.96,157.42 757.32,155.80 757.69,154.19 758.06,152.60 758.42,151.02 758.79,149.45 759.15,147.90 759.52,146.37 759.88,144.86 760.25,143.36 760.61,141.89 760.98,140.44 761.34,139.01 761.71,137.60 762.07,136.21 762.44,134.86 762.80,133.52 763.17,132.21 763.53,130.93 763.90,129.68 764.27,128.46 764.63,127.27 765.00,126.10 765.36,124.97 765.73,123.87 766.09,122.80 766.46,121.77 766.82,120.76 767.19,119.80 767.55,118.86 767.92,117.96 768.28,117.10 768.65,116.27 769.01,115.48 769.38,114.73 769.74,114.01 770.11,113.33 770.48,112.69 770.84,112.09 771.21,111.52 771.57,111.00 771.94,110.51 772.30,110.06 772.67,109.65 773.03,109.28 773.40,108.95 773.76,108.66"/><circle cx="514.40" cy="42.80" r="2.9" fill="#cf2230"/><circle cx="518.05" cy="46.95" r="2.9" fill="#cf2230"/><circle cx="521.71" cy="59.10" r="2.9" fill="#cf2230"/><circle cx="525.36" cy="78.41" r="2.9" fill="#cf2230"/><circle cx="529.01" cy="103.54" r="2.9" fill="#cf2230"/><circle cx="532.66" cy="132.75" r="2.9" fill="#cf2230"/><circle cx="536.32" cy="164.00" r="2.9" fill="#cf2230"/><circle cx="539.97" cy="195.14" r="2.9" fill="#cf2230"/><circle cx="543.62" cy="224.03" r="2.9" fill="#cf2230"/><circle cx="547.28" cy="248.68" r="2.9" fill="#cf2230"/><circle cx="550.93" cy="267.41" r="2.9" fill="#cf2230"/><circle cx="554.58" cy="278.98" r="2.9" fill="#cf2230"/><circle cx="558.24" cy="282.63" r="2.9" fill="#cf2230"/><circle cx="561.89" cy="278.17" r="2.9" fill="#cf2230"/><circle cx="565.54" cy="265.95" r="2.9" fill="#cf2230"/><circle cx="569.19" cy="246.88" r="2.9" fill="#cf2230"/><circle cx="572.85" cy="222.34" r="2.9" fill="#cf2230"/><circle cx="576.50" cy="194.05" r="2.9" fill="#cf2230"/><circle cx="580.15" cy="164.00" r="2.9" fill="#cf2230"/><circle cx="583.81" cy="134.27" r="2.9" fill="#cf2230"/><circle cx="587.46" cy="106.90" r="2.9" fill="#cf2230"/><circle cx="591.11" cy="83.74" r="2.9" fill="#cf2230"/><circle cx="594.77" cy="66.32" r="2.9" fill="#cf2230"/><circle cx="598.42" cy="55.78" r="2.9" fill="#cf2230"/><circle cx="602.07" cy="52.74" r="2.9" fill="#cf2230"/><circle cx="605.73" cy="57.32" r="2.9" fill="#cf2230"/><circle cx="609.38" cy="69.07" r="2.9" fill="#cf2230"/><circle cx="613.03" cy="87.10" r="2.9" fill="#cf2230"/><circle cx="616.68" cy="110.07" r="2.9" fill="#cf2230"/><circle cx="620.34" cy="136.32" r="2.9" fill="#cf2230"/><circle cx="623.99" cy="164.00" r="2.9" fill="#cf2230"/><circle cx="627.64" cy="191.19" r="2.9" fill="#cf2230"/><circle cx="631.30" cy="216.04" r="2.9" fill="#cf2230"/><circle cx="634.95" cy="236.89" r="2.9" fill="#cf2230"/><circle cx="638.60" cy="252.39" r="2.9" fill="#cf2230"/><circle cx="642.25" cy="261.58" r="2.9" fill="#cf2230"/><circle cx="645.91" cy="263.96" r="2.9" fill="#cf2230"/><circle cx="649.56" cy="259.52" r="2.9" fill="#cf2230"/><circle cx="653.21" cy="248.69" r="2.9" fill="#cf2230"/><circle cx="656.87" cy="232.36" r="2.9" fill="#cf2230"/><circle cx="660.52" cy="211.77" r="2.9" fill="#cf2230"/><circle cx="664.17" cy="188.43" r="2.9" fill="#cf2230"/><circle cx="667.83" cy="164.00" r="2.9" fill="#cf2230"/><circle cx="671.48" cy="140.17" r="2.9" fill="#cf2230"/><circle cx="675.13" cy="118.55" r="2.9" fill="#cf2230"/><circle cx="678.78" cy="100.57" r="2.9" fill="#cf2230"/><circle cx="682.44" cy="87.36" r="2.9" fill="#cf2230"/><circle cx="686.09" cy="79.69" r="2.9" fill="#cf2230"/><circle cx="689.74" cy="77.94" r="2.9" fill="#cf2230"/><circle cx="693.40" cy="82.07" r="2.9" fill="#cf2230"/><circle cx="697.05" cy="91.61" r="2.9" fill="#cf2230"/><circle cx="700.70" cy="105.78" r="2.9" fill="#cf2230"/><circle cx="704.36" cy="123.46" r="2.9" fill="#cf2230"/><circle cx="708.01" cy="143.34" r="2.9" fill="#cf2230"/><circle cx="711.66" cy="164.00" r="2.9" fill="#cf2230"/><circle cx="715.31" cy="184.01" r="2.9" fill="#cf2230"/><circle cx="718.97" cy="202.02" r="2.9" fill="#cf2230"/><circle cx="722.62" cy="216.88" r="2.9" fill="#cf2230"/><circle cx="726.27" cy="227.66" r="2.9" fill="#cf2230"/><circle cx="729.93" cy="233.78" r="2.9" fill="#cf2230"/><circle cx="733.58" cy="234.98" r="2.9" fill="#cf2230"/><circle cx="737.23" cy="231.34" r="2.9" fill="#cf2230"/><circle cx="740.89" cy="223.28" r="2.9" fill="#cf2230"/><circle cx="744.54" cy="211.51" r="2.9" fill="#cf2230"/><circle cx="748.19" cy="196.97" r="2.9" fill="#cf2230"/><circle cx="751.85" cy="180.74" r="2.9" fill="#cf2230"/><circle cx="755.50" cy="164.00" r="2.9" fill="#cf2230"/><circle cx="759.15" cy="147.90" r="2.9" fill="#cf2230"/><circle cx="762.80" cy="133.52" r="2.9" fill="#cf2230"/><circle cx="766.46" cy="121.77" r="2.9" fill="#cf2230"/><circle cx="770.11" cy="113.33" r="2.9" fill="#cf2230"/><circle cx="773.76" cy="108.66" r="2.9" fill="#cf2230"/></g><rect x="514.4" y="30.8" width="258.80" height="266.80" fill="none" stroke="#444" stroke-width="1"/><line x1="514.40" y1="297.6" x2="514.40" y2="294.6" stroke="#444" stroke-width="1"/><line x1="514.40" y1="30.8" x2="514.40" y2="33.8" stroke="#444" stroke-width="1"/><text x="514.40" y="313.9" text-anchor="middle" font-family="Liberation Sans, sans-serif" font-size="16.3" fill="#222" stroke="#222" stroke-width="0.3">0</text><line x1="550.93" y1="297.6" x2="550.93" y2="294.6" stroke="#444" stroke-width="1"/><line x1="550.93" y1="30.8" x2="550.93" y2="33.8" stroke="#444" stroke-width="1"/><text x="550.93" y="313.9" text-anchor="middle" font-family="Liberation Sans, sans-serif" font-size="16.3" fill="#222" stroke="#222" stroke-width="0.3">10</text><line x1="587.46" y1="297.6" x2="587.46" y2="294.6" stroke="#444" stroke-width="1"/><line x1="587.46" y1="30.8" x2="587.46" y2="33.8" stroke="#444" stroke-width="1"/><text x="587.46" y="313.9" text-anchor="middle" font-family="Liberation Sans, sans-serif" font-size="16.3" fill="#222" stroke="#222" stroke-width="0.3">20</text><line x1="623.99" y1="297.6" x2="623.99" y2="294.6" stroke="#444" stroke-width="1"/><line x1="623.99" y1="30.8" x2="623.99" y2="33.8" stroke="#444" stroke-width="1"/><text x="623.99" y="313.9" text-anchor="middle" font-family="Liberation Sans, sans-serif" font-size="16.3" fill="#222" stroke="#222" stroke-width="0.3">30</text><line x1="660.52" y1="297.6" x2="660.52" y2="294.6" stroke="#444" stroke-width="1"/><line x1="660.52" y1="30.8" x2="660.52" y2="33.8" stroke="#444" stroke-width="1"/><text x="660.52" y="313.9" text-anchor="middle" font-family="Liberation Sans, sans-serif" font-size="16.3" fill="#222" stroke="#222" stroke-width="0.3">40</text><line x1="697.05" y1="297.6" x2="697.05" y2="294.6" stroke="#444" stroke-width="1"/><line x1="697.05" y1="30.8" x2="697.05" y2="33.8" stroke="#444" stroke-width="1"/><text x="697.05" y="313.9" text-anchor="middle" font-family="Liberation Sans, sans-serif" font-size="16.3" fill="#222" stroke="#222" stroke-width="0.3">50</text><line x1="733.58" y1="297.6" x2="733.58" y2="294.6" stroke="#444" stroke-width="1"/><line x1="733.58" y1="30.8" x2="733.58" y2="33.8" stroke="#444" stroke-width="1"/><text x="733.58" y="313.9" text-anchor="middle" font-family="Liberation Sans, sans-serif" font-size="16.3" fill="#222" stroke="#222" stroke-width="0.3">60</text><line x1="770.11" y1="297.6" x2="770.11" y2="294.6" stroke="#444" stroke-width="1"/><line x1="770.11" y1="30.8" x2="770.11" y2="33.8" stroke="#444" stroke-width="1"/><text x="770.11" y="313.9" text-anchor="middle" font-family="Liberation Sans, sans-serif" font-size="16.3" fill="#222" stroke="#222" stroke-width="0.3">70</text><line x1="514.4" y1="42.80" x2="517.4" y2="42.80" stroke="#444" stroke-width="1"/><text x="510.1" y="48.10" text-anchor="end" font-family="Liberation Sans, sans-serif" font-size="16.3" fill="#222" stroke="#222" stroke-width="0.3">1.0</text><line x1="514.4" y1="103.40" x2="517.4" y2="103.40" stroke="#444" stroke-width="1"/><text x="510.1" y="108.70" text-anchor="end" font-family="Liberation Sans, sans-serif" font-size="16.3" fill="#222" stroke="#222" stroke-width="0.3">0.5</text><line x1="514.4" y1="164.00" x2="517.4" y2="164.00" stroke="#444" stroke-width="1"/><text x="510.1" y="169.30" text-anchor="end" font-family="Liberation Sans, sans-serif" font-size="16.3" fill="#222" stroke="#222" stroke-width="0.3">0.0</text><line x1="514.4" y1="224.60" x2="517.4" y2="224.60" stroke="#444" stroke-width="1"/><text x="510.1" y="229.90" text-anchor="end" font-family="Liberation Sans, sans-serif" font-size="16.3" fill="#222" stroke="#222" stroke-width="0.3">−0.5</text><line x1="514.4" y1="285.20" x2="517.4" y2="285.20" stroke="#444" stroke-width="1"/><text x="510.1" y="290.50" text-anchor="end" font-family="Liberation Sans, sans-serif" font-size="16.3" fill="#222" stroke="#222" stroke-width="0.3">−1.0</text><text x="569.8" y="330.6" font-family="Liberation Sans, sans-serif" font-size="14.8" fill="#222" stroke="#222" stroke-width="0.25">distance in time (hours)</text><text transform="translate(473.4,208.9) rotate(-90)" font-family="Liberation Sans, sans-serif" font-size="18.8" textLength="88.3" lengthAdjust="spacingAndGlyphs" fill="#222" stroke="#222" stroke-width="0.25">covariance</text></svg>
</body></html>
